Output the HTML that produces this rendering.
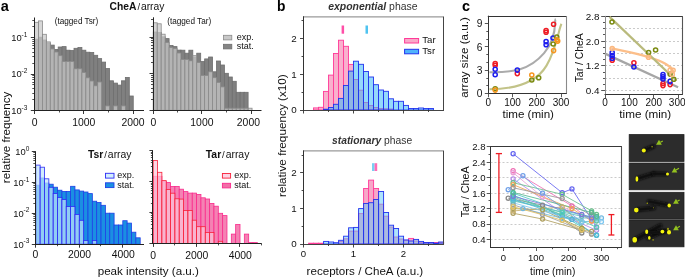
<!DOCTYPE html>
<html><head><meta charset="utf-8"><style>
html,body{margin:0;padding:0;background:#fff;width:685px;height:278px;overflow:hidden}
svg{display:block;will-change:transform}
text{font-family:"Liberation Sans",sans-serif}
</style></head><body>
<svg width="685" height="278" viewBox="0 0 685 278" font-family="Liberation Sans, sans-serif">
<rect width="685" height="278" fill="#fff"/>
<rect x="34.5" y="39.2" width="3.95" height="71.3" fill="#808080" stroke="#6e6e6e" stroke-width="0.8" />
<rect x="38.45" y="37.2" width="3.95" height="73.3" fill="#808080" stroke="#6e6e6e" stroke-width="0.8" />
<rect x="42.4" y="40" width="3.95" height="70.5" fill="#808080" stroke="#6e6e6e" stroke-width="0.8" />
<rect x="46.35" y="43" width="3.95" height="67.5" fill="#808080" stroke="#6e6e6e" stroke-width="0.8" />
<rect x="50.3" y="45.1" width="3.95" height="65.4" fill="#808080" stroke="#6e6e6e" stroke-width="0.8" />
<rect x="54.25" y="49.4" width="3.95" height="61.1" fill="#808080" stroke="#6e6e6e" stroke-width="0.8" />
<rect x="58.2" y="47" width="3.95" height="63.5" fill="#808080" stroke="#6e6e6e" stroke-width="0.8" />
<rect x="62.15" y="46.6" width="3.95" height="63.9" fill="#808080" stroke="#6e6e6e" stroke-width="0.8" />
<rect x="66.1" y="50.2" width="3.95" height="60.3" fill="#808080" stroke="#6e6e6e" stroke-width="0.8" />
<rect x="70.05" y="50.6" width="3.95" height="59.9" fill="#808080" stroke="#6e6e6e" stroke-width="0.8" />
<rect x="74" y="48.3" width="3.95" height="62.2" fill="#808080" stroke="#6e6e6e" stroke-width="0.8" />
<rect x="77.95" y="47.5" width="3.95" height="63" fill="#808080" stroke="#6e6e6e" stroke-width="0.8" />
<rect x="81.9" y="50.2" width="3.95" height="60.3" fill="#808080" stroke="#6e6e6e" stroke-width="0.8" />
<rect x="85.85" y="52.2" width="3.95" height="58.3" fill="#808080" stroke="#6e6e6e" stroke-width="0.8" />
<rect x="89.8" y="52.5" width="3.95" height="58" fill="#808080" stroke="#6e6e6e" stroke-width="0.8" />
<rect x="93.75" y="55.3" width="3.95" height="55.2" fill="#808080" stroke="#6e6e6e" stroke-width="0.8" />
<rect x="97.7" y="58.6" width="3.95" height="51.9" fill="#808080" stroke="#6e6e6e" stroke-width="0.8" />
<rect x="101.65" y="62.1" width="3.95" height="48.4" fill="#808080" stroke="#6e6e6e" stroke-width="0.8" />
<rect x="105.6" y="68.5" width="3.95" height="42" fill="#808080" stroke="#6e6e6e" stroke-width="0.8" />
<rect x="109.55" y="80.8" width="3.95" height="29.7" fill="#808080" stroke="#6e6e6e" stroke-width="0.8" />
<rect x="113.5" y="83.1" width="3.95" height="27.4" fill="#808080" stroke="#6e6e6e" stroke-width="0.8" />
<rect x="117.45" y="85.1" width="3.95" height="25.4" fill="#808080" stroke="#6e6e6e" stroke-width="0.8" />
<rect x="121.4" y="80.8" width="3.95" height="29.7" fill="#808080" stroke="#6e6e6e" stroke-width="0.8" />
<rect x="125.35" y="77.4" width="3.95" height="33.1" fill="#808080" stroke="#6e6e6e" stroke-width="0.8" />
<rect x="129.3" y="96" width="3.95" height="14.5" fill="#808080" stroke="#6e6e6e" stroke-width="0.8" />
<rect x="34.5" y="22.3" width="3.95" height="88.2" fill="#c8c8c8" stroke="#8a8a8a" stroke-width="0.8" fill-opacity="0.72"/>
<rect x="38.45" y="20.9" width="3.95" height="89.6" fill="#c8c8c8" stroke="#8a8a8a" stroke-width="0.8" fill-opacity="0.72"/>
<rect x="42.4" y="34.3" width="3.95" height="76.2" fill="#c8c8c8" stroke="#8a8a8a" stroke-width="0.8" fill-opacity="0.72"/>
<rect x="46.35" y="41.9" width="3.95" height="68.6" fill="#c8c8c8" stroke="#8a8a8a" stroke-width="0.8" fill-opacity="0.72"/>
<rect x="50.3" y="48.9" width="3.95" height="61.6" fill="#c8c8c8" stroke="#8a8a8a" stroke-width="0.8" fill-opacity="0.72"/>
<rect x="54.25" y="52" width="3.95" height="58.5" fill="#c8c8c8" stroke="#8a8a8a" stroke-width="0.8" fill-opacity="0.72"/>
<rect x="58.2" y="55.7" width="3.95" height="54.8" fill="#c8c8c8" stroke="#8a8a8a" stroke-width="0.8" fill-opacity="0.72"/>
<rect x="62.15" y="61.6" width="3.95" height="48.9" fill="#c8c8c8" stroke="#8a8a8a" stroke-width="0.8" fill-opacity="0.72"/>
<rect x="66.1" y="61.6" width="3.95" height="48.9" fill="#c8c8c8" stroke="#8a8a8a" stroke-width="0.8" fill-opacity="0.72"/>
<rect x="70.05" y="61.6" width="3.95" height="48.9" fill="#c8c8c8" stroke="#8a8a8a" stroke-width="0.8" fill-opacity="0.72"/>
<rect x="74" y="68.8" width="3.95" height="41.7" fill="#c8c8c8" stroke="#8a8a8a" stroke-width="0.8" fill-opacity="0.72"/>
<rect x="77.95" y="68.8" width="3.95" height="41.7" fill="#c8c8c8" stroke="#8a8a8a" stroke-width="0.8" fill-opacity="0.72"/>
<rect x="81.9" y="72.6" width="3.95" height="37.9" fill="#c8c8c8" stroke="#8a8a8a" stroke-width="0.8" fill-opacity="0.72"/>
<rect x="85.85" y="77.8" width="3.95" height="32.7" fill="#c8c8c8" stroke="#8a8a8a" stroke-width="0.8" fill-opacity="0.72"/>
<rect x="89.8" y="81" width="3.95" height="29.5" fill="#c8c8c8" stroke="#8a8a8a" stroke-width="0.8" fill-opacity="0.72"/>
<rect x="93.75" y="85.8" width="3.95" height="24.7" fill="#c8c8c8" stroke="#8a8a8a" stroke-width="0.8" fill-opacity="0.72"/>
<rect x="97.7" y="82" width="3.95" height="28.5" fill="#c8c8c8" stroke="#8a8a8a" stroke-width="0.8" fill-opacity="0.72"/>
<rect x="105.6" y="105.9" width="3.95" height="4.6" fill="#c8c8c8" stroke="#8a8a8a" stroke-width="0.8" fill-opacity="0.72"/>
<rect x="113.5" y="105.9" width="3.95" height="4.6" fill="#c8c8c8" stroke="#8a8a8a" stroke-width="0.8" fill-opacity="0.72"/>
<rect x="121.4" y="105.9" width="3.95" height="4.6" fill="#c8c8c8" stroke="#8a8a8a" stroke-width="0.8" fill-opacity="0.72"/>
<rect x="153.3" y="32" width="3.95" height="78.3" fill="#808080" stroke="#6e6e6e" stroke-width="0.8" />
<rect x="157.25" y="32.5" width="3.95" height="77.8" fill="#808080" stroke="#6e6e6e" stroke-width="0.8" />
<rect x="161.2" y="36.8" width="3.95" height="73.5" fill="#808080" stroke="#6e6e6e" stroke-width="0.8" />
<rect x="165.15" y="38.6" width="3.95" height="71.7" fill="#808080" stroke="#6e6e6e" stroke-width="0.8" />
<rect x="169.1" y="45.4" width="3.95" height="64.9" fill="#808080" stroke="#6e6e6e" stroke-width="0.8" />
<rect x="173.05" y="46.6" width="3.95" height="63.7" fill="#808080" stroke="#6e6e6e" stroke-width="0.8" />
<rect x="177" y="50.1" width="3.95" height="60.2" fill="#808080" stroke="#6e6e6e" stroke-width="0.8" />
<rect x="180.95" y="50.2" width="3.95" height="60.1" fill="#808080" stroke="#6e6e6e" stroke-width="0.8" />
<rect x="184.9" y="53.2" width="3.95" height="57.1" fill="#808080" stroke="#6e6e6e" stroke-width="0.8" />
<rect x="188.85" y="50.2" width="3.95" height="60.1" fill="#808080" stroke="#6e6e6e" stroke-width="0.8" />
<rect x="192.8" y="57" width="3.95" height="53.3" fill="#808080" stroke="#6e6e6e" stroke-width="0.8" />
<rect x="196.75" y="53.2" width="3.95" height="57.1" fill="#808080" stroke="#6e6e6e" stroke-width="0.8" />
<rect x="200.7" y="61.6" width="3.95" height="48.7" fill="#808080" stroke="#6e6e6e" stroke-width="0.8" />
<rect x="204.65" y="58.9" width="3.95" height="51.4" fill="#808080" stroke="#6e6e6e" stroke-width="0.8" />
<rect x="208.6" y="57" width="3.95" height="53.3" fill="#808080" stroke="#6e6e6e" stroke-width="0.8" />
<rect x="212.55" y="71.8" width="3.95" height="38.5" fill="#808080" stroke="#6e6e6e" stroke-width="0.8" />
<rect x="216.5" y="61" width="3.95" height="49.3" fill="#808080" stroke="#6e6e6e" stroke-width="0.8" />
<rect x="220.45" y="65" width="3.95" height="45.3" fill="#808080" stroke="#6e6e6e" stroke-width="0.8" />
<rect x="224.4" y="73.3" width="3.95" height="37" fill="#808080" stroke="#6e6e6e" stroke-width="0.8" />
<rect x="228.35" y="77" width="3.95" height="33.3" fill="#808080" stroke="#6e6e6e" stroke-width="0.8" />
<rect x="232.3" y="81.3" width="3.95" height="29" fill="#808080" stroke="#6e6e6e" stroke-width="0.8" />
<rect x="236.25" y="92.3" width="3.95" height="18" fill="#808080" stroke="#6e6e6e" stroke-width="0.8" />
<rect x="240.2" y="92.3" width="3.95" height="18" fill="#808080" stroke="#6e6e6e" stroke-width="0.8" />
<rect x="244.15" y="92.3" width="3.95" height="18" fill="#808080" stroke="#6e6e6e" stroke-width="0.8" />
<rect x="153.3" y="22.8" width="3.95" height="87.5" fill="#c8c8c8" stroke="#8a8a8a" stroke-width="0.8" fill-opacity="0.72"/>
<rect x="157.25" y="23.8" width="3.95" height="86.5" fill="#c8c8c8" stroke="#8a8a8a" stroke-width="0.8" fill-opacity="0.72"/>
<rect x="161.2" y="34.2" width="3.95" height="76.1" fill="#c8c8c8" stroke="#8a8a8a" stroke-width="0.8" fill-opacity="0.72"/>
<rect x="165.15" y="42.5" width="3.95" height="67.8" fill="#c8c8c8" stroke="#8a8a8a" stroke-width="0.8" fill-opacity="0.72"/>
<rect x="169.1" y="47.6" width="3.95" height="62.7" fill="#c8c8c8" stroke="#8a8a8a" stroke-width="0.8" fill-opacity="0.72"/>
<rect x="173.05" y="48.4" width="3.95" height="61.9" fill="#c8c8c8" stroke="#8a8a8a" stroke-width="0.8" fill-opacity="0.72"/>
<rect x="177" y="53" width="3.95" height="57.3" fill="#c8c8c8" stroke="#8a8a8a" stroke-width="0.8" fill-opacity="0.72"/>
<rect x="180.95" y="59.5" width="3.95" height="50.8" fill="#c8c8c8" stroke="#8a8a8a" stroke-width="0.8" fill-opacity="0.72"/>
<rect x="184.9" y="59.5" width="3.95" height="50.8" fill="#c8c8c8" stroke="#8a8a8a" stroke-width="0.8" fill-opacity="0.72"/>
<rect x="188.85" y="60.8" width="3.95" height="49.5" fill="#c8c8c8" stroke="#8a8a8a" stroke-width="0.8" fill-opacity="0.72"/>
<rect x="192.8" y="55.7" width="3.95" height="54.6" fill="#c8c8c8" stroke="#8a8a8a" stroke-width="0.8" fill-opacity="0.72"/>
<rect x="196.75" y="62.6" width="3.95" height="47.7" fill="#c8c8c8" stroke="#8a8a8a" stroke-width="0.8" fill-opacity="0.72"/>
<rect x="200.7" y="75.5" width="3.95" height="34.8" fill="#c8c8c8" stroke="#8a8a8a" stroke-width="0.8" fill-opacity="0.72"/>
<rect x="204.65" y="75.5" width="3.95" height="34.8" fill="#c8c8c8" stroke="#8a8a8a" stroke-width="0.8" fill-opacity="0.72"/>
<rect x="208.6" y="71.8" width="3.95" height="38.5" fill="#c8c8c8" stroke="#8a8a8a" stroke-width="0.8" fill-opacity="0.72"/>
<rect x="212.55" y="77.7" width="3.95" height="32.6" fill="#c8c8c8" stroke="#8a8a8a" stroke-width="0.8" fill-opacity="0.72"/>
<rect x="216.5" y="82.4" width="3.95" height="27.9" fill="#c8c8c8" stroke="#8a8a8a" stroke-width="0.8" fill-opacity="0.72"/>
<rect x="220.45" y="86.9" width="3.95" height="23.4" fill="#c8c8c8" stroke="#8a8a8a" stroke-width="0.8" fill-opacity="0.72"/>
<rect x="224.4" y="108.2" width="3.95" height="2.1" fill="#c8c8c8" stroke="#8a8a8a" stroke-width="0.8" fill-opacity="0.72"/>
<rect x="228.35" y="108.2" width="3.95" height="2.1" fill="#c8c8c8" stroke="#8a8a8a" stroke-width="0.8" fill-opacity="0.72"/>
<rect x="232.3" y="108.2" width="3.95" height="2.1" fill="#c8c8c8" stroke="#8a8a8a" stroke-width="0.8" fill-opacity="0.72"/>
<rect x="236.25" y="108.2" width="3.95" height="2.1" fill="#c8c8c8" stroke="#8a8a8a" stroke-width="0.8" fill-opacity="0.72"/>
<rect x="240.2" y="108.2" width="3.95" height="2.1" fill="#c8c8c8" stroke="#8a8a8a" stroke-width="0.8" fill-opacity="0.72"/>
<rect x="244.15" y="108.2" width="3.95" height="2.1" fill="#c8c8c8" stroke="#8a8a8a" stroke-width="0.8" fill-opacity="0.72"/>
<rect x="248.1" y="108.2" width="3.95" height="2.1" fill="#c8c8c8" stroke="#8a8a8a" stroke-width="0.8" fill-opacity="0.72"/>
<rect x="35.8" y="185.2" width="4.35" height="59" fill="#1b8fe2" stroke="#1f3fe8" stroke-width="0.8" />
<rect x="40.15" y="178" width="4.35" height="66.2" fill="#1b8fe2" stroke="#1f3fe8" stroke-width="0.8" />
<rect x="44.5" y="183" width="4.35" height="61.2" fill="#1b8fe2" stroke="#1f3fe8" stroke-width="0.8" />
<rect x="48.85" y="184.2" width="4.35" height="60" fill="#1b8fe2" stroke="#1f3fe8" stroke-width="0.8" />
<rect x="53.2" y="187.2" width="4.35" height="57" fill="#1b8fe2" stroke="#1f3fe8" stroke-width="0.8" />
<rect x="57.55" y="190.2" width="4.35" height="54" fill="#1b8fe2" stroke="#1f3fe8" stroke-width="0.8" />
<rect x="61.9" y="191.4" width="4.35" height="52.8" fill="#1b8fe2" stroke="#1f3fe8" stroke-width="0.8" />
<rect x="66.25" y="191.4" width="4.35" height="52.8" fill="#1b8fe2" stroke="#1f3fe8" stroke-width="0.8" />
<rect x="70.6" y="186.3" width="4.35" height="57.9" fill="#1b8fe2" stroke="#1f3fe8" stroke-width="0.8" />
<rect x="74.95" y="189.9" width="4.35" height="54.3" fill="#1b8fe2" stroke="#1f3fe8" stroke-width="0.8" />
<rect x="79.3" y="191.1" width="4.35" height="53.1" fill="#1b8fe2" stroke="#1f3fe8" stroke-width="0.8" />
<rect x="83.65" y="192" width="4.35" height="52.2" fill="#1b8fe2" stroke="#1f3fe8" stroke-width="0.8" />
<rect x="88" y="193.6" width="4.35" height="50.6" fill="#1b8fe2" stroke="#1f3fe8" stroke-width="0.8" />
<rect x="92.35" y="201.2" width="4.35" height="43" fill="#1b8fe2" stroke="#1f3fe8" stroke-width="0.8" />
<rect x="96.7" y="202.5" width="4.35" height="41.7" fill="#1b8fe2" stroke="#1f3fe8" stroke-width="0.8" />
<rect x="101.05" y="205.3" width="4.35" height="38.9" fill="#1b8fe2" stroke="#1f3fe8" stroke-width="0.8" />
<rect x="105.4" y="213.2" width="4.35" height="31" fill="#1b8fe2" stroke="#1f3fe8" stroke-width="0.8" />
<rect x="109.75" y="213.2" width="4.35" height="31" fill="#1b8fe2" stroke="#1f3fe8" stroke-width="0.8" />
<rect x="114.1" y="225" width="4.35" height="19.2" fill="#1b8fe2" stroke="#1f3fe8" stroke-width="0.8" />
<rect x="118.45" y="225" width="4.35" height="19.2" fill="#1b8fe2" stroke="#1f3fe8" stroke-width="0.8" />
<rect x="122.8" y="220.7" width="4.35" height="23.5" fill="#1b8fe2" stroke="#1f3fe8" stroke-width="0.8" />
<rect x="127.15" y="223.1" width="4.35" height="21.1" fill="#1b8fe2" stroke="#1f3fe8" stroke-width="0.8" />
<rect x="131.5" y="232.2" width="4.35" height="12" fill="#1b8fe2" stroke="#1f3fe8" stroke-width="0.8" />
<rect x="135.85" y="237.8" width="4.35" height="6.4" fill="#1b8fe2" stroke="#1f3fe8" stroke-width="0.8" />
<rect x="35.8" y="165.1" width="4.35" height="79.1" fill="#bfe5fb" stroke="#2b2bf5" stroke-width="0.8" fill-opacity="0.72"/>
<rect x="40.15" y="167.2" width="4.35" height="77" fill="#bfe5fb" stroke="#2b2bf5" stroke-width="0.8" fill-opacity="0.72"/>
<rect x="44.5" y="178.8" width="4.35" height="65.4" fill="#bfe5fb" stroke="#2b2bf5" stroke-width="0.8" fill-opacity="0.72"/>
<rect x="48.85" y="187.3" width="4.35" height="56.9" fill="#bfe5fb" stroke="#2b2bf5" stroke-width="0.8" fill-opacity="0.72"/>
<rect x="53.2" y="193.5" width="4.35" height="50.7" fill="#bfe5fb" stroke="#2b2bf5" stroke-width="0.8" fill-opacity="0.72"/>
<rect x="57.55" y="197.4" width="4.35" height="46.8" fill="#bfe5fb" stroke="#2b2bf5" stroke-width="0.8" fill-opacity="0.72"/>
<rect x="61.9" y="199.6" width="4.35" height="44.6" fill="#bfe5fb" stroke="#2b2bf5" stroke-width="0.8" fill-opacity="0.72"/>
<rect x="66.25" y="206.5" width="4.35" height="37.7" fill="#bfe5fb" stroke="#2b2bf5" stroke-width="0.8" fill-opacity="0.72"/>
<rect x="70.6" y="206.5" width="4.35" height="37.7" fill="#bfe5fb" stroke="#2b2bf5" stroke-width="0.8" fill-opacity="0.72"/>
<rect x="74.95" y="214.4" width="4.35" height="29.8" fill="#bfe5fb" stroke="#2b2bf5" stroke-width="0.8" fill-opacity="0.72"/>
<rect x="79.3" y="220.3" width="4.35" height="23.9" fill="#bfe5fb" stroke="#2b2bf5" stroke-width="0.8" fill-opacity="0.72"/>
<rect x="83.65" y="240.5" width="4.35" height="3.7" fill="#bfe5fb" stroke="#2b2bf5" stroke-width="0.8" fill-opacity="0.72"/>
<rect x="92.35" y="240.5" width="4.35" height="3.7" fill="#bfe5fb" stroke="#2b2bf5" stroke-width="0.8" fill-opacity="0.72"/>
<rect x="153.2" y="176.3" width="4.34" height="67.1" fill="#f482b3" stroke="#fa2a8c" stroke-width="0.8" />
<rect x="157.54" y="176.3" width="4.34" height="67.1" fill="#f482b3" stroke="#fa2a8c" stroke-width="0.8" />
<rect x="161.88" y="181.5" width="4.34" height="61.9" fill="#f482b3" stroke="#fa2a8c" stroke-width="0.8" />
<rect x="166.22" y="182.6" width="4.34" height="60.8" fill="#f482b3" stroke="#fa2a8c" stroke-width="0.8" />
<rect x="170.56" y="186.4" width="4.34" height="57" fill="#f482b3" stroke="#fa2a8c" stroke-width="0.8" />
<rect x="174.9" y="186.4" width="4.34" height="57" fill="#f482b3" stroke="#fa2a8c" stroke-width="0.8" />
<rect x="179.24" y="189.2" width="4.34" height="54.2" fill="#f482b3" stroke="#fa2a8c" stroke-width="0.8" />
<rect x="183.58" y="191.6" width="4.34" height="51.8" fill="#f482b3" stroke="#fa2a8c" stroke-width="0.8" />
<rect x="187.92" y="193.1" width="4.34" height="50.3" fill="#f482b3" stroke="#fa2a8c" stroke-width="0.8" />
<rect x="192.26" y="193.1" width="4.34" height="50.3" fill="#f482b3" stroke="#fa2a8c" stroke-width="0.8" />
<rect x="196.6" y="194.4" width="4.34" height="49" fill="#f482b3" stroke="#fa2a8c" stroke-width="0.8" />
<rect x="200.94" y="197.8" width="4.34" height="45.6" fill="#f482b3" stroke="#fa2a8c" stroke-width="0.8" />
<rect x="205.28" y="199" width="4.34" height="44.4" fill="#f482b3" stroke="#fa2a8c" stroke-width="0.8" />
<rect x="209.62" y="203.4" width="4.34" height="40" fill="#f482b3" stroke="#fa2a8c" stroke-width="0.8" />
<rect x="213.96" y="206.2" width="4.34" height="37.2" fill="#f482b3" stroke="#fa2a8c" stroke-width="0.8" />
<rect x="218.3" y="213.3" width="4.34" height="30.1" fill="#f482b3" stroke="#fa2a8c" stroke-width="0.8" />
<rect x="222.64" y="215.6" width="4.34" height="27.8" fill="#f482b3" stroke="#fa2a8c" stroke-width="0.8" />
<rect x="231.32" y="234.1" width="4.34" height="9.3" fill="#f482b3" stroke="#fa2a8c" stroke-width="0.8" />
<rect x="235.66" y="224.4" width="4.34" height="19" fill="#f482b3" stroke="#fa2a8c" stroke-width="0.8" />
<rect x="244.34" y="234.1" width="4.34" height="9.3" fill="#f482b3" stroke="#fa2a8c" stroke-width="0.8" />
<rect x="248.68" y="242.6" width="4.34" height="0.8" fill="#f482b3" stroke="#fa2a8c" stroke-width="0.8" />
<rect x="253.02" y="242.6" width="4.34" height="0.8" fill="#f482b3" stroke="#fa2a8c" stroke-width="0.8" />
<rect x="153.2" y="160.5" width="4.34" height="82.9" fill="#fbc6da" stroke="#f8203a" stroke-width="0.8" fill-opacity="0.72"/>
<rect x="157.54" y="172.3" width="4.34" height="71.1" fill="#fbc6da" stroke="#f8203a" stroke-width="0.8" fill-opacity="0.72"/>
<rect x="161.88" y="180.6" width="4.34" height="62.8" fill="#fbc6da" stroke="#f8203a" stroke-width="0.8" fill-opacity="0.72"/>
<rect x="166.22" y="189.5" width="4.34" height="53.9" fill="#fbc6da" stroke="#f8203a" stroke-width="0.8" fill-opacity="0.72"/>
<rect x="170.56" y="193.2" width="4.34" height="50.2" fill="#fbc6da" stroke="#f8203a" stroke-width="0.8" fill-opacity="0.72"/>
<rect x="174.9" y="198.8" width="4.34" height="44.6" fill="#fbc6da" stroke="#f8203a" stroke-width="0.8" fill-opacity="0.72"/>
<rect x="179.24" y="199.1" width="4.34" height="44.3" fill="#fbc6da" stroke="#f8203a" stroke-width="0.8" fill-opacity="0.72"/>
<rect x="183.58" y="210.5" width="4.34" height="32.9" fill="#fbc6da" stroke="#f8203a" stroke-width="0.8" fill-opacity="0.72"/>
<rect x="187.92" y="210.5" width="4.34" height="32.9" fill="#fbc6da" stroke="#f8203a" stroke-width="0.8" fill-opacity="0.72"/>
<rect x="192.26" y="220.2" width="4.34" height="23.2" fill="#fbc6da" stroke="#f8203a" stroke-width="0.8" fill-opacity="0.72"/>
<rect x="196.6" y="226.7" width="4.34" height="16.7" fill="#fbc6da" stroke="#f8203a" stroke-width="0.8" fill-opacity="0.72"/>
<rect x="200.94" y="226.7" width="4.34" height="16.7" fill="#fbc6da" stroke="#f8203a" stroke-width="0.8" fill-opacity="0.72"/>
<rect x="205.28" y="232.5" width="4.34" height="10.9" fill="#fbc6da" stroke="#f8203a" stroke-width="0.8" fill-opacity="0.72"/>
<rect x="209.62" y="232.5" width="4.34" height="10.9" fill="#fbc6da" stroke="#f8203a" stroke-width="0.8" fill-opacity="0.72"/>
<rect x="218.3" y="241.3" width="4.34" height="2.1" fill="#fbc6da" stroke="#f8203a" stroke-width="0.8" fill-opacity="0.72"/>
<line x1="34.5" y1="17.5" x2="34.5" y2="111" stroke="#222" stroke-width="1" />
<line x1="30.8" y1="110.5" x2="34.3" y2="110.5" stroke="#222" stroke-width="0.9" />
<line x1="32.3" y1="99.5" x2="34.3" y2="99.5" stroke="#222" stroke-width="0.8" />
<line x1="32.3" y1="93.5" x2="34.3" y2="93.5" stroke="#222" stroke-width="0.8" />
<line x1="32.3" y1="88.5" x2="34.3" y2="88.5" stroke="#222" stroke-width="0.8" />
<line x1="32.3" y1="84.5" x2="34.3" y2="84.5" stroke="#222" stroke-width="0.8" />
<line x1="32.3" y1="82.5" x2="34.3" y2="82.5" stroke="#222" stroke-width="0.8" />
<line x1="32.3" y1="79.5" x2="34.3" y2="79.5" stroke="#222" stroke-width="0.8" />
<line x1="32.3" y1="77.5" x2="34.3" y2="77.5" stroke="#222" stroke-width="0.8" />
<line x1="32.3" y1="75.5" x2="34.3" y2="75.5" stroke="#222" stroke-width="0.8" />
<line x1="30.8" y1="74.5" x2="34.3" y2="74.5" stroke="#222" stroke-width="0.9" />
<line x1="32.3" y1="63.5" x2="34.3" y2="63.5" stroke="#222" stroke-width="0.8" />
<line x1="32.3" y1="56.5" x2="34.3" y2="56.5" stroke="#222" stroke-width="0.8" />
<line x1="32.3" y1="52.5" x2="34.3" y2="52.5" stroke="#222" stroke-width="0.8" />
<line x1="32.3" y1="48.5" x2="34.3" y2="48.5" stroke="#222" stroke-width="0.8" />
<line x1="32.3" y1="45.5" x2="34.3" y2="45.5" stroke="#222" stroke-width="0.8" />
<line x1="32.3" y1="43.5" x2="34.3" y2="43.5" stroke="#222" stroke-width="0.8" />
<line x1="32.3" y1="41.5" x2="34.3" y2="41.5" stroke="#222" stroke-width="0.8" />
<line x1="32.3" y1="39.5" x2="34.3" y2="39.5" stroke="#222" stroke-width="0.8" />
<line x1="30.8" y1="37.5" x2="34.3" y2="37.5" stroke="#222" stroke-width="0.9" />
<line x1="32.3" y1="26.5" x2="34.3" y2="26.5" stroke="#222" stroke-width="0.8" />
<line x1="32.3" y1="20.5" x2="34.3" y2="20.5" stroke="#222" stroke-width="0.8" />
<text x="27.4" y="113.9" font-size="9.4" text-anchor="end" fill="#111">10<tspan font-size="6.5" dy="-4.3">-3</tspan></text>
<text x="27.4" y="77.4" font-size="9.4" text-anchor="end" fill="#111">10<tspan font-size="6.5" dy="-4.3">-2</tspan></text>
<text x="27.4" y="40.9" font-size="9.4" text-anchor="end" fill="#111">10<tspan font-size="6.5" dy="-4.3">-1</tspan></text>
<line x1="33.8" y1="110.5" x2="144" y2="110.5" stroke="#222" stroke-width="1" />
<line x1="34.5" y1="110.5" x2="34.5" y2="114" stroke="#222" stroke-width="0.9" />
<line x1="83.5" y1="110.5" x2="83.5" y2="114" stroke="#222" stroke-width="0.9" />
<line x1="133.5" y1="110.5" x2="133.5" y2="114" stroke="#222" stroke-width="0.9" />
<line x1="59.5" y1="110.5" x2="59.5" y2="112.5" stroke="#222" stroke-width="0.8" />
<line x1="108.5" y1="110.5" x2="108.5" y2="112.5" stroke="#222" stroke-width="0.8" />
<text x="34.6" y="126.3" font-size="10.4" text-anchor="middle" font-weight="normal" font-style="normal" fill="#111" >0</text>
<text x="83.8" y="126.3" font-size="10.4" text-anchor="middle" font-weight="normal" font-style="normal" fill="#111" >1000</text>
<text x="133.1" y="126.3" font-size="10.4" text-anchor="middle" font-weight="normal" font-style="normal" fill="#111" >2000</text>
<line x1="153.5" y1="17.3" x2="153.5" y2="110.8" stroke="#222" stroke-width="1" />
<line x1="149.5" y1="110.5" x2="153" y2="110.5" stroke="#222" stroke-width="0.9" />
<line x1="151" y1="99.5" x2="153" y2="99.5" stroke="#222" stroke-width="0.8" />
<line x1="151" y1="92.5" x2="153" y2="92.5" stroke="#222" stroke-width="0.8" />
<line x1="151" y1="88.5" x2="153" y2="88.5" stroke="#222" stroke-width="0.8" />
<line x1="151" y1="84.5" x2="153" y2="84.5" stroke="#222" stroke-width="0.8" />
<line x1="151" y1="81.5" x2="153" y2="81.5" stroke="#222" stroke-width="0.8" />
<line x1="151" y1="79.5" x2="153" y2="79.5" stroke="#222" stroke-width="0.8" />
<line x1="151" y1="77.5" x2="153" y2="77.5" stroke="#222" stroke-width="0.8" />
<line x1="151" y1="75.5" x2="153" y2="75.5" stroke="#222" stroke-width="0.8" />
<line x1="149.5" y1="73.5" x2="153" y2="73.5" stroke="#222" stroke-width="0.9" />
<line x1="151" y1="62.5" x2="153" y2="62.5" stroke="#222" stroke-width="0.8" />
<line x1="151" y1="56.5" x2="153" y2="56.5" stroke="#222" stroke-width="0.8" />
<line x1="151" y1="51.5" x2="153" y2="51.5" stroke="#222" stroke-width="0.8" />
<line x1="151" y1="48.5" x2="153" y2="48.5" stroke="#222" stroke-width="0.8" />
<line x1="151" y1="45.5" x2="153" y2="45.5" stroke="#222" stroke-width="0.8" />
<line x1="151" y1="42.5" x2="153" y2="42.5" stroke="#222" stroke-width="0.8" />
<line x1="151" y1="40.5" x2="153" y2="40.5" stroke="#222" stroke-width="0.8" />
<line x1="151" y1="38.5" x2="153" y2="38.5" stroke="#222" stroke-width="0.8" />
<line x1="149.5" y1="37.5" x2="153" y2="37.5" stroke="#222" stroke-width="0.9" />
<line x1="151" y1="26.5" x2="153" y2="26.5" stroke="#222" stroke-width="0.8" />
<line x1="151" y1="19.5" x2="153" y2="19.5" stroke="#222" stroke-width="0.8" />
<line x1="152.5" y1="110.5" x2="261.5" y2="110.5" stroke="#222" stroke-width="1" />
<line x1="153.5" y1="110.5" x2="153.5" y2="114" stroke="#222" stroke-width="0.9" />
<line x1="201.5" y1="110.5" x2="201.5" y2="114" stroke="#222" stroke-width="0.9" />
<line x1="251.5" y1="110.5" x2="251.5" y2="114" stroke="#222" stroke-width="0.9" />
<line x1="177.5" y1="110.5" x2="177.5" y2="112.5" stroke="#222" stroke-width="0.8" />
<line x1="226.5" y1="110.5" x2="226.5" y2="112.5" stroke="#222" stroke-width="0.8" />
<text x="153.5" y="126.4" font-size="10.4" text-anchor="middle" font-weight="normal" font-style="normal" fill="#111" >0</text>
<text x="201.9" y="126.4" font-size="10.4" text-anchor="middle" font-weight="normal" font-style="normal" fill="#111" >1000</text>
<text x="248.4" y="126.4" font-size="10.4" text-anchor="middle" font-weight="normal" font-style="normal" fill="#111" >2000</text>
<line x1="35.5" y1="151.2" x2="35.5" y2="244.7" stroke="#222" stroke-width="1" />
<line x1="31.8" y1="244.5" x2="35.3" y2="244.5" stroke="#222" stroke-width="0.9" />
<line x1="33.3" y1="234.5" x2="35.3" y2="234.5" stroke="#222" stroke-width="0.8" />
<line x1="33.3" y1="229.5" x2="35.3" y2="229.5" stroke="#222" stroke-width="0.8" />
<line x1="33.3" y1="225.5" x2="35.3" y2="225.5" stroke="#222" stroke-width="0.8" />
<line x1="33.3" y1="222.5" x2="35.3" y2="222.5" stroke="#222" stroke-width="0.8" />
<line x1="33.3" y1="220.5" x2="35.3" y2="220.5" stroke="#222" stroke-width="0.8" />
<line x1="33.3" y1="218.5" x2="35.3" y2="218.5" stroke="#222" stroke-width="0.8" />
<line x1="33.3" y1="216.5" x2="35.3" y2="216.5" stroke="#222" stroke-width="0.8" />
<line x1="33.3" y1="214.5" x2="35.3" y2="214.5" stroke="#222" stroke-width="0.8" />
<line x1="31.8" y1="213.5" x2="35.3" y2="213.5" stroke="#222" stroke-width="0.9" />
<line x1="33.3" y1="203.5" x2="35.3" y2="203.5" stroke="#222" stroke-width="0.8" />
<line x1="33.3" y1="198.5" x2="35.3" y2="198.5" stroke="#222" stroke-width="0.8" />
<line x1="33.3" y1="194.5" x2="35.3" y2="194.5" stroke="#222" stroke-width="0.8" />
<line x1="33.3" y1="191.5" x2="35.3" y2="191.5" stroke="#222" stroke-width="0.8" />
<line x1="33.3" y1="189.5" x2="35.3" y2="189.5" stroke="#222" stroke-width="0.8" />
<line x1="33.3" y1="187.5" x2="35.3" y2="187.5" stroke="#222" stroke-width="0.8" />
<line x1="33.3" y1="185.5" x2="35.3" y2="185.5" stroke="#222" stroke-width="0.8" />
<line x1="33.3" y1="183.5" x2="35.3" y2="183.5" stroke="#222" stroke-width="0.8" />
<line x1="31.8" y1="182.5" x2="35.3" y2="182.5" stroke="#222" stroke-width="0.9" />
<line x1="33.3" y1="173.5" x2="35.3" y2="173.5" stroke="#222" stroke-width="0.8" />
<line x1="33.3" y1="167.5" x2="35.3" y2="167.5" stroke="#222" stroke-width="0.8" />
<line x1="33.3" y1="163.5" x2="35.3" y2="163.5" stroke="#222" stroke-width="0.8" />
<line x1="33.3" y1="160.5" x2="35.3" y2="160.5" stroke="#222" stroke-width="0.8" />
<line x1="33.3" y1="158.5" x2="35.3" y2="158.5" stroke="#222" stroke-width="0.8" />
<line x1="33.3" y1="156.5" x2="35.3" y2="156.5" stroke="#222" stroke-width="0.8" />
<line x1="33.3" y1="154.5" x2="35.3" y2="154.5" stroke="#222" stroke-width="0.8" />
<line x1="33.3" y1="152.5" x2="35.3" y2="152.5" stroke="#222" stroke-width="0.8" />
<line x1="31.8" y1="151.5" x2="35.3" y2="151.5" stroke="#222" stroke-width="0.9" />
<text x="29.4" y="247.6" font-size="9.4" text-anchor="end" fill="#111">10<tspan font-size="6.5" dy="-4.3">-3</tspan></text>
<text x="29.4" y="216.7" font-size="9.4" text-anchor="end" fill="#111">10<tspan font-size="6.5" dy="-4.3">-2</tspan></text>
<text x="29.4" y="185.8" font-size="9.4" text-anchor="end" fill="#111">10<tspan font-size="6.5" dy="-4.3">-1</tspan></text>
<text x="29.4" y="154.9" font-size="9.4" text-anchor="end" fill="#111">10<tspan font-size="6.5" dy="-4.3">0</tspan></text>
<line x1="35" y1="244.5" x2="144" y2="244.5" stroke="#222" stroke-width="1" />
<line x1="35.5" y1="244.2" x2="35.5" y2="247.7" stroke="#222" stroke-width="0.9" />
<line x1="79.5" y1="244.2" x2="79.5" y2="247.7" stroke="#222" stroke-width="0.9" />
<line x1="122.5" y1="244.2" x2="122.5" y2="247.7" stroke="#222" stroke-width="0.9" />
<line x1="57.5" y1="244.2" x2="57.5" y2="246.2" stroke="#222" stroke-width="0.8" />
<line x1="100.5" y1="244.2" x2="100.5" y2="246.2" stroke="#222" stroke-width="0.8" />
<text x="35.3" y="257.6" font-size="10.4" text-anchor="middle" font-weight="normal" font-style="normal" fill="#111" >0</text>
<text x="79.6" y="257.6" font-size="10.4" text-anchor="middle" font-weight="normal" font-style="normal" fill="#111" >2000</text>
<text x="123.2" y="257.6" font-size="10.4" text-anchor="middle" font-weight="normal" font-style="normal" fill="#111" >4000</text>
<line x1="152.5" y1="150.4" x2="152.5" y2="243.9" stroke="#222" stroke-width="1" />
<line x1="149.4" y1="243.5" x2="152.9" y2="243.5" stroke="#222" stroke-width="0.9" />
<line x1="150.9" y1="234.5" x2="152.9" y2="234.5" stroke="#222" stroke-width="0.8" />
<line x1="150.9" y1="228.5" x2="152.9" y2="228.5" stroke="#222" stroke-width="0.8" />
<line x1="150.9" y1="224.5" x2="152.9" y2="224.5" stroke="#222" stroke-width="0.8" />
<line x1="150.9" y1="221.5" x2="152.9" y2="221.5" stroke="#222" stroke-width="0.8" />
<line x1="150.9" y1="219.5" x2="152.9" y2="219.5" stroke="#222" stroke-width="0.8" />
<line x1="150.9" y1="217.5" x2="152.9" y2="217.5" stroke="#222" stroke-width="0.8" />
<line x1="150.9" y1="215.5" x2="152.9" y2="215.5" stroke="#222" stroke-width="0.8" />
<line x1="150.9" y1="213.5" x2="152.9" y2="213.5" stroke="#222" stroke-width="0.8" />
<line x1="149.4" y1="212.5" x2="152.9" y2="212.5" stroke="#222" stroke-width="0.9" />
<line x1="150.9" y1="203.5" x2="152.9" y2="203.5" stroke="#222" stroke-width="0.8" />
<line x1="150.9" y1="197.5" x2="152.9" y2="197.5" stroke="#222" stroke-width="0.8" />
<line x1="150.9" y1="193.5" x2="152.9" y2="193.5" stroke="#222" stroke-width="0.8" />
<line x1="150.9" y1="190.5" x2="152.9" y2="190.5" stroke="#222" stroke-width="0.8" />
<line x1="150.9" y1="188.5" x2="152.9" y2="188.5" stroke="#222" stroke-width="0.8" />
<line x1="150.9" y1="186.5" x2="152.9" y2="186.5" stroke="#222" stroke-width="0.8" />
<line x1="150.9" y1="184.5" x2="152.9" y2="184.5" stroke="#222" stroke-width="0.8" />
<line x1="150.9" y1="183.5" x2="152.9" y2="183.5" stroke="#222" stroke-width="0.8" />
<line x1="149.4" y1="181.5" x2="152.9" y2="181.5" stroke="#222" stroke-width="0.9" />
<line x1="150.9" y1="172.5" x2="152.9" y2="172.5" stroke="#222" stroke-width="0.8" />
<line x1="150.9" y1="166.5" x2="152.9" y2="166.5" stroke="#222" stroke-width="0.8" />
<line x1="150.9" y1="162.5" x2="152.9" y2="162.5" stroke="#222" stroke-width="0.8" />
<line x1="150.9" y1="160.5" x2="152.9" y2="160.5" stroke="#222" stroke-width="0.8" />
<line x1="150.9" y1="157.5" x2="152.9" y2="157.5" stroke="#222" stroke-width="0.8" />
<line x1="150.9" y1="155.5" x2="152.9" y2="155.5" stroke="#222" stroke-width="0.8" />
<line x1="150.9" y1="153.5" x2="152.9" y2="153.5" stroke="#222" stroke-width="0.8" />
<line x1="150.9" y1="152.5" x2="152.9" y2="152.5" stroke="#222" stroke-width="0.8" />
<line x1="149.4" y1="150.5" x2="152.9" y2="150.5" stroke="#222" stroke-width="0.9" />
<line x1="152.4" y1="243.5" x2="261.6" y2="243.5" stroke="#222" stroke-width="1" />
<line x1="153.5" y1="243.4" x2="153.5" y2="246.9" stroke="#222" stroke-width="0.9" />
<line x1="196.5" y1="243.4" x2="196.5" y2="246.9" stroke="#222" stroke-width="0.9" />
<line x1="239.5" y1="243.4" x2="239.5" y2="246.9" stroke="#222" stroke-width="0.9" />
<line x1="174.5" y1="243.4" x2="174.5" y2="245.4" stroke="#222" stroke-width="0.8" />
<line x1="218.5" y1="243.4" x2="218.5" y2="245.4" stroke="#222" stroke-width="0.8" />
<line x1="261.5" y1="243.4" x2="261.5" y2="245.4" stroke="#222" stroke-width="0.8" />
<text x="153.1" y="258.6" font-size="10.4" text-anchor="middle" font-weight="normal" font-style="normal" fill="#111" >0</text>
<text x="196.7" y="258.6" font-size="10.4" text-anchor="middle" font-weight="normal" font-style="normal" fill="#111" >2000</text>
<text x="240.3" y="258.6" font-size="10.4" text-anchor="middle" font-weight="normal" font-style="normal" fill="#111" >4000</text>
<text x="109.6" y="10" font-size="10.3" fill="#111"><tspan font-weight="bold">CheA</tspan><tspan dx="0.9" font-size="0.92em">/</tspan><tspan dx="0.9">array</tspan></text>
<text x="54.7" y="24.3" font-size="8.2" text-anchor="start" font-weight="normal" font-style="normal" fill="#111" >(tagged Tsr)</text>
<text x="167.2" y="24.3" font-size="8.2" text-anchor="start" font-weight="normal" font-style="normal" fill="#111" >(tagged Tar)</text>
<rect x="223.5" y="35.3" width="8.3" height="4.6" fill="#c8c8c8" stroke="#8a8a8a" stroke-width="0.8" />
<rect x="223.5" y="44.3" width="8.3" height="4.6" fill="#858585" stroke="#6e6e6e" stroke-width="0.8" />
<text x="236.7" y="40.2" font-size="9" text-anchor="start" font-weight="normal" font-style="normal" fill="#111" >exp.</text>
<text x="236.7" y="49" font-size="9" text-anchor="start" font-weight="normal" font-style="normal" fill="#111" >stat.</text>
<text x="88" y="157.6" font-size="10.4" fill="#111"><tspan font-weight="bold">Tsr</tspan><tspan dx="0.9" font-size="0.92em">/</tspan><tspan dx="0.9">array</tspan></text>
<rect x="105.5" y="173.3" width="8.5" height="4.8" fill="#d3eefd" stroke="#2b2bf5" stroke-width="0.9" />
<rect x="105.5" y="182.8" width="8.5" height="4.8" fill="#1b8fe2" stroke="#1f3fe8" stroke-width="0.9" />
<text x="117.3" y="178" font-size="9" text-anchor="start" font-weight="normal" font-style="normal" fill="#111" >exp.</text>
<text x="117.3" y="188.2" font-size="9" text-anchor="start" font-weight="normal" font-style="normal" fill="#111" >stat.</text>
<text x="205.8" y="157.6" font-size="10.4" fill="#111"><tspan font-weight="bold">Tar</tspan><tspan dx="0.9" font-size="0.92em">/</tspan><tspan dx="0.9">array</tspan></text>
<rect x="222.4" y="173.5" width="8.2" height="4.6" fill="#fcd4e4" stroke="#f8203a" stroke-width="0.9" />
<rect x="222.4" y="183.3" width="8.2" height="4.6" fill="#f170a8" stroke="#fa2a8c" stroke-width="0.9" />
<text x="234.2" y="178.2" font-size="9" text-anchor="start" font-weight="normal" font-style="normal" fill="#111" >exp.</text>
<text x="234.2" y="188.2" font-size="9" text-anchor="start" font-weight="normal" font-style="normal" fill="#111" >stat.</text>
<text transform="translate(9.6,137.4) rotate(-90)" x="0" y="0" font-size="11.6" text-anchor="middle" fill="#111">relative frequency</text>
<text x="148.3" y="275" font-size="11.6" text-anchor="middle" font-weight="normal" font-style="normal" fill="#111" >peak intensity (a.u.)</text>
<text x="0.7" y="11.3" font-size="14.5" text-anchor="start" font-weight="bold" font-style="normal" fill="#000" >a</text>
<text x="277" y="10.6" font-size="13.8" text-anchor="start" font-weight="bold" font-style="normal" fill="#000" >b</text>
<text x="461.9" y="11.3" font-size="14.4" text-anchor="start" font-weight="bold" font-style="normal" fill="#000" >c</text>
<rect x="313.5" y="107.9" width="5" height="2.1" fill="#f9b0cd" stroke="#ff3a98" stroke-width="0.9" />
<rect x="318.5" y="107.3" width="5" height="2.7" fill="#f9b0cd" stroke="#ff3a98" stroke-width="0.9" />
<rect x="323.5" y="91.4" width="5" height="18.6" fill="#f9b0cd" stroke="#ff3a98" stroke-width="0.9" />
<rect x="328.5" y="75.1" width="5" height="34.9" fill="#f9b0cd" stroke="#ff3a98" stroke-width="0.9" />
<rect x="333.5" y="53.5" width="5" height="56.5" fill="#f9b0cd" stroke="#ff3a98" stroke-width="0.9" />
<rect x="338.5" y="40.2" width="5" height="69.8" fill="#f9b0cd" stroke="#ff3a98" stroke-width="0.9" />
<rect x="343.5" y="46.3" width="5" height="63.7" fill="#f9b0cd" stroke="#ff3a98" stroke-width="0.9" />
<rect x="348.5" y="64.4" width="5" height="45.6" fill="#f9b0cd" stroke="#ff3a98" stroke-width="0.9" />
<rect x="353.5" y="79.5" width="5" height="30.5" fill="#f9b0cd" stroke="#ff3a98" stroke-width="0.9" />
<rect x="358.5" y="90.2" width="5" height="19.8" fill="#f9b0cd" stroke="#ff3a98" stroke-width="0.9" />
<rect x="363.5" y="102.5" width="5" height="7.5" fill="#f9b0cd" stroke="#ff3a98" stroke-width="0.9" />
<rect x="368.5" y="105.5" width="5" height="4.5" fill="#f9b0cd" stroke="#ff3a98" stroke-width="0.9" />
<rect x="373.5" y="107.5" width="5" height="2.5" fill="#f9b0cd" stroke="#ff3a98" stroke-width="0.9" />
<rect x="378.5" y="108.5" width="5" height="1.5" fill="#f9b0cd" stroke="#ff3a98" stroke-width="0.9" />
<rect x="383.5" y="108.8" width="5" height="1.2" fill="#f9b0cd" stroke="#ff3a98" stroke-width="0.9" />
<rect x="388.5" y="109" width="5" height="1" fill="#f9b0cd" stroke="#ff3a98" stroke-width="0.9" />
<rect x="323.5" y="109.2" width="5" height="0.8" fill="rgb(60,185,248)" stroke="#2233ee" stroke-width="0.9" fill-opacity="0.55"/>
<rect x="328.5" y="107.5" width="5" height="2.5" fill="rgb(60,185,248)" stroke="#2233ee" stroke-width="0.9" fill-opacity="0.55"/>
<rect x="333.5" y="104.3" width="5" height="5.7" fill="rgb(60,185,248)" stroke="#2233ee" stroke-width="0.9" fill-opacity="0.55"/>
<rect x="338.5" y="98.4" width="5" height="11.6" fill="rgb(60,185,248)" stroke="#2233ee" stroke-width="0.9" fill-opacity="0.55"/>
<rect x="343.5" y="85.5" width="5" height="24.5" fill="rgb(60,185,248)" stroke="#2233ee" stroke-width="0.9" fill-opacity="0.55"/>
<rect x="348.5" y="71.1" width="5" height="38.9" fill="rgb(60,185,248)" stroke="#2233ee" stroke-width="0.9" fill-opacity="0.55"/>
<rect x="353.5" y="61.2" width="5" height="48.8" fill="rgb(60,185,248)" stroke="#2233ee" stroke-width="0.9" fill-opacity="0.55"/>
<rect x="358.5" y="64.3" width="5" height="45.7" fill="rgb(60,185,248)" stroke="#2233ee" stroke-width="0.9" fill-opacity="0.55"/>
<rect x="363.5" y="71.5" width="5" height="38.5" fill="rgb(60,185,248)" stroke="#2233ee" stroke-width="0.9" fill-opacity="0.55"/>
<rect x="368.5" y="77" width="5" height="33" fill="rgb(60,185,248)" stroke="#2233ee" stroke-width="0.9" fill-opacity="0.55"/>
<rect x="373.5" y="84.7" width="5" height="25.3" fill="rgb(60,185,248)" stroke="#2233ee" stroke-width="0.9" fill-opacity="0.55"/>
<rect x="378.5" y="90" width="5" height="20" fill="rgb(60,185,248)" stroke="#2233ee" stroke-width="0.9" fill-opacity="0.55"/>
<rect x="383.5" y="91.3" width="5" height="18.7" fill="rgb(60,185,248)" stroke="#2233ee" stroke-width="0.9" fill-opacity="0.55"/>
<rect x="388.5" y="98.8" width="5" height="11.2" fill="rgb(60,185,248)" stroke="#2233ee" stroke-width="0.9" fill-opacity="0.55"/>
<rect x="393.5" y="101.3" width="5" height="8.7" fill="rgb(60,185,248)" stroke="#2233ee" stroke-width="0.9" fill-opacity="0.55"/>
<rect x="398.5" y="101.3" width="5" height="8.7" fill="rgb(60,185,248)" stroke="#2233ee" stroke-width="0.9" fill-opacity="0.55"/>
<rect x="403.5" y="105.4" width="5" height="4.6" fill="rgb(60,185,248)" stroke="#2233ee" stroke-width="0.9" fill-opacity="0.55"/>
<rect x="408.5" y="108.5" width="5" height="1.5" fill="rgb(60,185,248)" stroke="#2233ee" stroke-width="0.9" fill-opacity="0.55"/>
<rect x="413.5" y="108.5" width="5" height="1.5" fill="rgb(60,185,248)" stroke="#2233ee" stroke-width="0.9" fill-opacity="0.55"/>
<rect x="418.5" y="108" width="5" height="2" fill="rgb(60,185,248)" stroke="#2233ee" stroke-width="0.9" fill-opacity="0.55"/>
<rect x="423.5" y="108.5" width="5" height="1.5" fill="rgb(60,185,248)" stroke="#2233ee" stroke-width="0.9" fill-opacity="0.55"/>
<rect x="428.5" y="108.5" width="5" height="1.5" fill="rgb(60,185,248)" stroke="#2233ee" stroke-width="0.9" fill-opacity="0.55"/>
<rect x="308.6" y="243.2" width="5" height="0.8" fill="#f7a8c8" stroke="#ff3a98" stroke-width="0.9" />
<rect x="313.6" y="243.2" width="5" height="0.8" fill="#f7a8c8" stroke="#ff3a98" stroke-width="0.9" />
<rect x="318.6" y="243.2" width="5" height="0.8" fill="#f7a8c8" stroke="#ff3a98" stroke-width="0.9" />
<rect x="338.6" y="241.4" width="5" height="2.6" fill="#f7a8c8" stroke="#ff3a98" stroke-width="0.9" />
<rect x="343.6" y="238.8" width="5" height="5.2" fill="#f7a8c8" stroke="#ff3a98" stroke-width="0.9" />
<rect x="348.6" y="231.1" width="5" height="12.9" fill="#f7a8c8" stroke="#ff3a98" stroke-width="0.9" />
<rect x="353.6" y="231.1" width="5" height="12.9" fill="#f7a8c8" stroke="#ff3a98" stroke-width="0.9" />
<rect x="358.6" y="213.6" width="5" height="30.4" fill="#f7a8c8" stroke="#ff3a98" stroke-width="0.9" />
<rect x="363.6" y="188.5" width="5" height="55.5" fill="#f7a8c8" stroke="#ff3a98" stroke-width="0.9" />
<rect x="368.6" y="180.1" width="5" height="63.9" fill="#f7a8c8" stroke="#ff3a98" stroke-width="0.9" />
<rect x="373.6" y="188.5" width="5" height="55.5" fill="#f7a8c8" stroke="#ff3a98" stroke-width="0.9" />
<rect x="378.6" y="204.2" width="5" height="39.8" fill="#f7a8c8" stroke="#ff3a98" stroke-width="0.9" />
<rect x="383.6" y="216.2" width="5" height="27.8" fill="#f7a8c8" stroke="#ff3a98" stroke-width="0.9" />
<rect x="388.6" y="227" width="5" height="17" fill="#f7a8c8" stroke="#ff3a98" stroke-width="0.9" />
<rect x="393.6" y="237" width="5" height="7" fill="#f7a8c8" stroke="#ff3a98" stroke-width="0.9" />
<rect x="398.6" y="239" width="5" height="5" fill="#f7a8c8" stroke="#ff3a98" stroke-width="0.9" />
<rect x="403.6" y="240.5" width="5" height="3.5" fill="#f7a8c8" stroke="#ff3a98" stroke-width="0.9" />
<rect x="408.6" y="238.4" width="5" height="5.6" fill="#f7a8c8" stroke="#ff3a98" stroke-width="0.9" />
<rect x="413.6" y="241" width="5" height="3" fill="#f7a8c8" stroke="#ff3a98" stroke-width="0.9" />
<rect x="418.6" y="242.5" width="5" height="1.5" fill="#f7a8c8" stroke="#ff3a98" stroke-width="0.9" />
<rect x="423.6" y="242.5" width="5" height="1.5" fill="#f7a8c8" stroke="#ff3a98" stroke-width="0.9" />
<rect x="428.6" y="242.5" width="5" height="1.5" fill="#f7a8c8" stroke="#ff3a98" stroke-width="0.9" />
<rect x="433.6" y="242.5" width="5" height="1.5" fill="#f7a8c8" stroke="#ff3a98" stroke-width="0.9" />
<rect x="438.6" y="242.5" width="5" height="1.5" fill="#f7a8c8" stroke="#ff3a98" stroke-width="0.9" />
<rect x="323.6" y="241.4" width="5" height="2.6" fill="rgb(93,201,249)" stroke="#2233ee" stroke-width="0.9" fill-opacity="0.5"/>
<rect x="328.6" y="242" width="5" height="2" fill="rgb(93,201,249)" stroke="#2233ee" stroke-width="0.9" fill-opacity="0.5"/>
<rect x="333.6" y="242.7" width="5" height="1.3" fill="rgb(93,201,249)" stroke="#2233ee" stroke-width="0.9" fill-opacity="0.5"/>
<rect x="338.6" y="240.3" width="5" height="3.7" fill="rgb(93,201,249)" stroke="#2233ee" stroke-width="0.9" fill-opacity="0.5"/>
<rect x="343.6" y="236.2" width="5" height="7.8" fill="rgb(93,201,249)" stroke="#2233ee" stroke-width="0.9" fill-opacity="0.5"/>
<rect x="348.6" y="227.8" width="5" height="16.2" fill="rgb(93,201,249)" stroke="#2233ee" stroke-width="0.9" fill-opacity="0.5"/>
<rect x="353.6" y="227.4" width="5" height="16.6" fill="rgb(93,201,249)" stroke="#2233ee" stroke-width="0.9" fill-opacity="0.5"/>
<rect x="358.6" y="208.6" width="5" height="35.4" fill="rgb(93,201,249)" stroke="#2233ee" stroke-width="0.9" fill-opacity="0.5"/>
<rect x="363.6" y="203.5" width="5" height="40.5" fill="rgb(93,201,249)" stroke="#2233ee" stroke-width="0.9" fill-opacity="0.5"/>
<rect x="368.6" y="202.7" width="5" height="41.3" fill="rgb(93,201,249)" stroke="#2233ee" stroke-width="0.9" fill-opacity="0.5"/>
<rect x="373.6" y="199.5" width="5" height="44.5" fill="rgb(93,201,249)" stroke="#2233ee" stroke-width="0.9" fill-opacity="0.5"/>
<rect x="378.6" y="191.5" width="5" height="52.5" fill="rgb(93,201,249)" stroke="#2233ee" stroke-width="0.9" fill-opacity="0.5"/>
<rect x="383.6" y="212.5" width="5" height="31.5" fill="rgb(93,201,249)" stroke="#2233ee" stroke-width="0.9" fill-opacity="0.5"/>
<rect x="388.6" y="225.2" width="5" height="18.8" fill="rgb(93,201,249)" stroke="#2233ee" stroke-width="0.9" fill-opacity="0.5"/>
<rect x="393.6" y="228.5" width="5" height="15.5" fill="rgb(93,201,249)" stroke="#2233ee" stroke-width="0.9" fill-opacity="0.5"/>
<rect x="398.6" y="236.2" width="5" height="7.8" fill="rgb(93,201,249)" stroke="#2233ee" stroke-width="0.9" fill-opacity="0.5"/>
<rect x="403.6" y="239.9" width="5" height="4.1" fill="rgb(93,201,249)" stroke="#2233ee" stroke-width="0.9" fill-opacity="0.5"/>
<rect x="408.6" y="241" width="5" height="3" fill="rgb(93,201,249)" stroke="#2233ee" stroke-width="0.9" fill-opacity="0.5"/>
<rect x="413.6" y="239.4" width="5" height="4.6" fill="rgb(93,201,249)" stroke="#2233ee" stroke-width="0.9" fill-opacity="0.5"/>
<rect x="418.6" y="241.4" width="5" height="2.6" fill="rgb(93,201,249)" stroke="#2233ee" stroke-width="0.9" fill-opacity="0.5"/>
<rect x="423.6" y="242.5" width="5" height="1.5" fill="rgb(93,201,249)" stroke="#2233ee" stroke-width="0.9" fill-opacity="0.5"/>
<rect x="428.6" y="242.5" width="5" height="1.5" fill="rgb(93,201,249)" stroke="#2233ee" stroke-width="0.9" fill-opacity="0.5"/>
<rect x="433.6" y="243.2" width="5" height="0.8" fill="rgb(93,201,249)" stroke="#2233ee" stroke-width="0.9" fill-opacity="0.5"/>
<rect x="438.6" y="242" width="5" height="2" fill="rgb(93,201,249)" stroke="#2233ee" stroke-width="0.9" fill-opacity="0.5"/>
<line x1="303" y1="16.8" x2="444" y2="16.8" stroke="#9a9a9a" stroke-width="1.3" />
<line x1="443.5" y1="16.8" x2="443.5" y2="110" stroke="#444" stroke-width="1" />
<line x1="303.5" y1="16.3" x2="303.5" y2="110.5" stroke="#333" stroke-width="1" />
<line x1="303" y1="110.5" x2="444" y2="110.5" stroke="#444" stroke-width="1" />
<line x1="300" y1="110.5" x2="303.5" y2="110.5" stroke="#333" stroke-width="0.9" />
<line x1="301.5" y1="92.5" x2="303.5" y2="92.5" stroke="#333" stroke-width="0.9" />
<line x1="300" y1="74.5" x2="303.5" y2="74.5" stroke="#333" stroke-width="0.9" />
<line x1="301.5" y1="56.5" x2="303.5" y2="56.5" stroke="#333" stroke-width="0.9" />
<line x1="300" y1="38.5" x2="303.5" y2="38.5" stroke="#333" stroke-width="0.9" />
<line x1="301.5" y1="20.5" x2="303.5" y2="20.5" stroke="#333" stroke-width="0.9" />
<text x="296.7" y="113.4" font-size="9.8" text-anchor="end" font-weight="normal" font-style="normal" fill="#111" >0</text>
<text x="296.7" y="77.6" font-size="9.8" text-anchor="end" font-weight="normal" font-style="normal" fill="#111" >1</text>
<text x="296.7" y="41.8" font-size="9.8" text-anchor="end" font-weight="normal" font-style="normal" fill="#111" >2</text>
<line x1="303.5" y1="110" x2="303.5" y2="113.5" stroke="#333" stroke-width="0.9" />
<line x1="328.5" y1="110" x2="328.5" y2="112" stroke="#333" stroke-width="0.9" />
<line x1="353.5" y1="110" x2="353.5" y2="113.5" stroke="#333" stroke-width="0.9" />
<line x1="378.5" y1="110" x2="378.5" y2="112" stroke="#333" stroke-width="0.9" />
<line x1="403.5" y1="110" x2="403.5" y2="113.5" stroke="#333" stroke-width="0.9" />
<line x1="428.5" y1="110" x2="428.5" y2="112" stroke="#333" stroke-width="0.9" />
<line x1="303.1" y1="150.9" x2="444" y2="150.9" stroke="#9a9a9a" stroke-width="1.3" />
<line x1="443.5" y1="150.9" x2="443.5" y2="244" stroke="#444" stroke-width="1" />
<line x1="303.5" y1="150.4" x2="303.5" y2="244.5" stroke="#333" stroke-width="1" />
<line x1="303.1" y1="244.5" x2="444" y2="244.5" stroke="#444" stroke-width="1" />
<line x1="300.1" y1="244.5" x2="303.6" y2="244.5" stroke="#333" stroke-width="0.9" />
<line x1="301.6" y1="226.5" x2="303.6" y2="226.5" stroke="#333" stroke-width="0.9" />
<line x1="300.1" y1="208.5" x2="303.6" y2="208.5" stroke="#333" stroke-width="0.9" />
<line x1="301.6" y1="190.5" x2="303.6" y2="190.5" stroke="#333" stroke-width="0.9" />
<line x1="300.1" y1="172.5" x2="303.6" y2="172.5" stroke="#333" stroke-width="0.9" />
<line x1="301.6" y1="155.5" x2="303.6" y2="155.5" stroke="#333" stroke-width="0.9" />
<text x="296.8" y="247.4" font-size="9.8" text-anchor="end" font-weight="normal" font-style="normal" fill="#111" >0</text>
<text x="296.8" y="211.8" font-size="9.8" text-anchor="end" font-weight="normal" font-style="normal" fill="#111" >1</text>
<text x="296.8" y="176.2" font-size="9.8" text-anchor="end" font-weight="normal" font-style="normal" fill="#111" >2</text>
<line x1="303.5" y1="244" x2="303.5" y2="247.5" stroke="#333" stroke-width="0.9" />
<line x1="328.5" y1="244" x2="328.5" y2="246" stroke="#333" stroke-width="0.9" />
<line x1="353.5" y1="244" x2="353.5" y2="247.5" stroke="#333" stroke-width="0.9" />
<line x1="378.5" y1="244" x2="378.5" y2="246" stroke="#333" stroke-width="0.9" />
<line x1="403.5" y1="244" x2="403.5" y2="247.5" stroke="#333" stroke-width="0.9" />
<line x1="428.5" y1="244" x2="428.5" y2="246" stroke="#333" stroke-width="0.9" />
<text x="303.5" y="256.6" font-size="9.6" text-anchor="middle" font-weight="normal" font-style="normal" fill="#111" >0</text>
<text x="353.5" y="256.6" font-size="9.6" text-anchor="middle" font-weight="normal" font-style="normal" fill="#111" >1</text>
<text x="403.5" y="256.6" font-size="9.6" text-anchor="middle" font-weight="normal" font-style="normal" fill="#111" >2</text>
<text x="328.2" y="10.2" font-size="10.45" fill="#333"><tspan font-weight="bold" font-style="italic">exponential</tspan> phase</text>
<text x="332" y="144" font-size="10.3" fill="#333"><tspan font-weight="bold" font-style="italic">stationary</tspan> phase</text>
<rect x="341.6" y="25.5" width="2.5" height="8.2" fill="#ff4fa8" stroke="none" stroke-width="1" />
<rect x="365.5" y="25.5" width="2.5" height="8.2" fill="#4fc3f0" stroke="none" stroke-width="1" />
<rect x="372" y="163.2" width="2.6" height="7.8" fill="#78cff2" stroke="none" stroke-width="1" />
<rect x="374.6" y="163.2" width="2.6" height="7.8" fill="#ff6cb4" stroke="none" stroke-width="1" />
<rect x="404.6" y="38.5" width="14" height="4.5" fill="#f9a8c8" stroke="#ff3a98" stroke-width="1" />
<rect x="404.6" y="49.3" width="14" height="4.5" fill="#4fb3fc" stroke="#2233ee" stroke-width="1" />
<text x="422.3" y="42.9" font-size="9.6" text-anchor="start" font-weight="normal" font-style="normal" fill="#111" >Tar</text>
<text x="422.3" y="53.6" font-size="9.6" text-anchor="start" font-weight="normal" font-style="normal" fill="#111" >Tsr</text>
<text transform="translate(286.2,135.6) rotate(-90)" x="0" y="0" font-size="11.75" text-anchor="middle" fill="#111">relative frequency (x10)</text>
<text x="364.9" y="275.2" font-size="11.6" text-anchor="middle" font-weight="normal" font-style="normal" fill="#111" >receptors / CheA (a.u.)</text>
<line x1="487.8" y1="16.5" x2="566.8" y2="16.5" stroke="#333" stroke-width="1.1" />
<line x1="566.5" y1="16.2" x2="566.5" y2="93.5" stroke="#8a8a8a" stroke-width="1.1" />
<line x1="488.5" y1="15.7" x2="488.5" y2="94" stroke="#333" stroke-width="1" />
<line x1="487.8" y1="93.5" x2="566.8" y2="93.5" stroke="#333" stroke-width="1" />
<line x1="484.8" y1="93.5" x2="488.3" y2="93.5" stroke="#444" stroke-width="0.9" />
<text x="482.3" y="97.2" font-size="10.2" text-anchor="end" font-weight="normal" font-style="normal" fill="#111" >0</text>
<line x1="486.3" y1="85.5" x2="488.3" y2="85.5" stroke="#444" stroke-width="0.9" />
<line x1="486.3" y1="78.5" x2="488.3" y2="78.5" stroke="#444" stroke-width="0.9" />
<line x1="484.8" y1="70.5" x2="488.3" y2="70.5" stroke="#444" stroke-width="0.9" />
<text x="482.3" y="73.86" font-size="10.2" text-anchor="end" font-weight="normal" font-style="normal" fill="#111" >3</text>
<line x1="486.3" y1="62.5" x2="488.3" y2="62.5" stroke="#444" stroke-width="0.9" />
<line x1="486.3" y1="54.5" x2="488.3" y2="54.5" stroke="#444" stroke-width="0.9" />
<line x1="484.8" y1="46.5" x2="488.3" y2="46.5" stroke="#444" stroke-width="0.9" />
<text x="482.3" y="50.52" font-size="10.2" text-anchor="end" font-weight="normal" font-style="normal" fill="#111" >6</text>
<line x1="486.3" y1="39.5" x2="488.3" y2="39.5" stroke="#444" stroke-width="0.9" />
<line x1="486.3" y1="31.5" x2="488.3" y2="31.5" stroke="#444" stroke-width="0.9" />
<line x1="484.8" y1="23.5" x2="488.3" y2="23.5" stroke="#444" stroke-width="0.9" />
<text x="482.3" y="27.18" font-size="10.2" text-anchor="end" font-weight="normal" font-style="normal" fill="#111" >9</text>
<line x1="488.5" y1="93.5" x2="488.5" y2="97.3" stroke="#444" stroke-width="0.9" />
<text x="488.3" y="106.1" font-size="10" text-anchor="middle" font-weight="normal" font-style="normal" fill="#111" >0</text>
<line x1="512.5" y1="93.5" x2="512.5" y2="97.3" stroke="#444" stroke-width="0.9" />
<text x="512.55" y="106.1" font-size="10" text-anchor="middle" font-weight="normal" font-style="normal" fill="#111" >100</text>
<line x1="536.5" y1="93.5" x2="536.5" y2="97.3" stroke="#444" stroke-width="0.9" />
<text x="536.8" y="106.1" font-size="10" text-anchor="middle" font-weight="normal" font-style="normal" fill="#111" >200</text>
<line x1="561.5" y1="93.5" x2="561.5" y2="97.3" stroke="#444" stroke-width="0.9" />
<text x="561.05" y="106.1" font-size="10" text-anchor="middle" font-weight="normal" font-style="normal" fill="#111" >300</text>
<path d="M489.51,72.2 C512.55,72.59 529.52,70.26 544.08,53.14 S553.77,19.69 555.72,18.91" fill="none" stroke="#ababab" stroke-width="2.1"/>
<path d="M489.51,89.32 C517.4,88.93 536.8,81.93 546.5,65.59 S559.11,27.47 561.53,23.97" fill="none" stroke="#c2c388" stroke-width="2.1"/>
<circle cx="495.2" cy="63.6" r="2.05" fill="none" stroke="#ee1c24" stroke-width="1.5"/>
<circle cx="495.2" cy="65.2" r="2.05" fill="none" stroke="#ee1c24" stroke-width="1.5"/>
<circle cx="517.3" cy="73.6" r="2.05" fill="none" stroke="#ee1c24" stroke-width="1.5"/>
<circle cx="553.6" cy="24.3" r="2.05" fill="none" stroke="#ee1c24" stroke-width="1.5"/>
<circle cx="546.1" cy="30.6" r="2.05" fill="none" stroke="#ee1c24" stroke-width="1.5"/>
<circle cx="546.1" cy="32.2" r="2.05" fill="none" stroke="#ee1c24" stroke-width="1.5"/>
<circle cx="495.2" cy="69.2" r="2.05" fill="none" stroke="#1c1cee" stroke-width="1.5"/>
<circle cx="495.2" cy="74.7" r="2.05" fill="none" stroke="#1c1cee" stroke-width="1.5"/>
<circle cx="517.3" cy="70.1" r="2.05" fill="none" stroke="#1c1cee" stroke-width="1.5"/>
<circle cx="546.1" cy="41.6" r="2.05" fill="none" stroke="#1c1cee" stroke-width="1.5"/>
<circle cx="546.1" cy="44.7" r="2.05" fill="none" stroke="#1c1cee" stroke-width="1.5"/>
<circle cx="553" cy="38" r="2.05" fill="none" stroke="#1c1cee" stroke-width="1.5"/>
<circle cx="495.2" cy="88.7" r="2.05" fill="none" stroke="#7a8a10" stroke-width="1.5"/>
<circle cx="531.8" cy="80" r="2.05" fill="none" stroke="#7a8a10" stroke-width="1.5"/>
<circle cx="538.7" cy="77.8" r="2.05" fill="none" stroke="#7a8a10" stroke-width="1.5"/>
<circle cx="556.8" cy="37.1" r="2.05" fill="none" stroke="#7a8a10" stroke-width="1.5"/>
<circle cx="553.2" cy="44" r="2.05" fill="none" stroke="#7a8a10" stroke-width="1.5"/>
<circle cx="495.2" cy="90.1" r="2.05" fill="none" stroke="#f7941d" stroke-width="1.5"/>
<circle cx="531.8" cy="75" r="2.05" fill="none" stroke="#f7941d" stroke-width="1.5"/>
<circle cx="553.6" cy="50.6" r="2.05" fill="none" stroke="#f7941d" stroke-width="1.5"/>
<circle cx="556.8" cy="39.8" r="2.05" fill="none" stroke="#f7941d" stroke-width="1.5"/>
<circle cx="557.7" cy="41.1" r="2.05" fill="none" stroke="#f7941d" stroke-width="1.5"/>
<text transform="translate(468.3,57.5) rotate(-90)" x="0" y="0" font-size="11.6" text-anchor="middle" fill="#111">array size (a.u.)</text>
<text x="528.2" y="117.9" font-size="11.6" text-anchor="middle" font-weight="normal" font-style="normal" fill="#111" >time (min)</text>
<line x1="605" y1="90.5" x2="682.4" y2="90.5" stroke="#c4c4c4" stroke-width="0.9" stroke-dasharray="2,2"/>
<line x1="605" y1="78.5" x2="682.4" y2="78.5" stroke="#c4c4c4" stroke-width="0.9" stroke-dasharray="2,2"/>
<line x1="605" y1="65.5" x2="682.4" y2="65.5" stroke="#c4c4c4" stroke-width="0.9" stroke-dasharray="2,2"/>
<line x1="605" y1="53.5" x2="682.4" y2="53.5" stroke="#c4c4c4" stroke-width="0.9" stroke-dasharray="2,2"/>
<line x1="605" y1="41.5" x2="682.4" y2="41.5" stroke="#c4c4c4" stroke-width="0.9" stroke-dasharray="2,2"/>
<line x1="605" y1="28.5" x2="682.4" y2="28.5" stroke="#c4c4c4" stroke-width="0.9" stroke-dasharray="2,2"/>
<line x1="604.5" y1="16.5" x2="682.9" y2="16.5" stroke="#383838" stroke-width="1.1" />
<line x1="682.5" y1="16.4" x2="682.5" y2="94.2" stroke="#555" stroke-width="1.1" />
<line x1="605.5" y1="15.9" x2="605.5" y2="94.7" stroke="#8c8c8c" stroke-width="1" />
<line x1="604.5" y1="94.5" x2="682.9" y2="94.5" stroke="#333" stroke-width="1" />
<line x1="601.2" y1="90.5" x2="605" y2="90.5" stroke="#444" stroke-width="0.9" />
<text x="599.4" y="94.1" font-size="9.9" text-anchor="end" font-weight="normal" font-style="normal" fill="#111" >0.4</text>
<line x1="603" y1="84.5" x2="605" y2="84.5" stroke="#444" stroke-width="0.9" />
<line x1="603" y1="78.5" x2="605" y2="78.5" stroke="#444" stroke-width="0.9" />
<line x1="603" y1="72.5" x2="605" y2="72.5" stroke="#444" stroke-width="0.9" />
<line x1="601.2" y1="65.5" x2="605" y2="65.5" stroke="#444" stroke-width="0.9" />
<text x="599.4" y="69.3" font-size="9.9" text-anchor="end" font-weight="normal" font-style="normal" fill="#111" >1.2</text>
<line x1="603" y1="59.5" x2="605" y2="59.5" stroke="#444" stroke-width="0.9" />
<line x1="603" y1="53.5" x2="605" y2="53.5" stroke="#444" stroke-width="0.9" />
<line x1="603" y1="47.5" x2="605" y2="47.5" stroke="#444" stroke-width="0.9" />
<line x1="601.2" y1="41.5" x2="605" y2="41.5" stroke="#444" stroke-width="0.9" />
<text x="599.4" y="44.5" font-size="9.9" text-anchor="end" font-weight="normal" font-style="normal" fill="#111" >2.0</text>
<line x1="603" y1="34.5" x2="605" y2="34.5" stroke="#444" stroke-width="0.9" />
<line x1="603" y1="28.5" x2="605" y2="28.5" stroke="#444" stroke-width="0.9" />
<line x1="603" y1="22.5" x2="605" y2="22.5" stroke="#444" stroke-width="0.9" />
<line x1="601.2" y1="16.5" x2="605" y2="16.5" stroke="#444" stroke-width="0.9" />
<text x="599.4" y="19.7" font-size="9.9" text-anchor="end" font-weight="normal" font-style="normal" fill="#111" >2.8</text>
<line x1="605.5" y1="94.2" x2="605.5" y2="98" stroke="#444" stroke-width="0.9" />
<text x="605" y="106.4" font-size="10" text-anchor="middle" font-weight="normal" font-style="normal" fill="#111" >0</text>
<line x1="629.5" y1="94.2" x2="629.5" y2="98" stroke="#444" stroke-width="0.9" />
<text x="629.4" y="106.4" font-size="10" text-anchor="middle" font-weight="normal" font-style="normal" fill="#111" >100</text>
<line x1="653.5" y1="94.2" x2="653.5" y2="98" stroke="#444" stroke-width="0.9" />
<text x="653.8" y="106.4" font-size="10" text-anchor="middle" font-weight="normal" font-style="normal" fill="#111" >200</text>
<line x1="678.5" y1="94.2" x2="678.5" y2="98" stroke="#444" stroke-width="0.9" />
<text x="677.2" y="106.4" font-size="10" text-anchor="middle" font-weight="normal" font-style="normal" fill="#111" >300</text>
<line x1="605.0" y1="53.6" x2="678.1" y2="87.2" stroke="#a6a6a6" stroke-width="2.3"/>
<path d="M611.2,48.2 C630,52 650,56 662,62 S672,70 674,73" fill="none" stroke="#fcbf8a" stroke-width="2.4"/>
<line x1="609.6" y1="16.9" x2="676.5" y2="80.8" stroke="#b9ba7c" stroke-width="2.2"/>
<circle cx="612.2" cy="60.3" r="2.05" fill="none" stroke="#ee1c24" stroke-width="1.5"/>
<circle cx="633.9" cy="62.7" r="2.05" fill="none" stroke="#ee1c24" stroke-width="1.5"/>
<circle cx="663" cy="83.5" r="2.05" fill="none" stroke="#ee1c24" stroke-width="1.5"/>
<circle cx="663" cy="85.6" r="2.05" fill="none" stroke="#ee1c24" stroke-width="1.5"/>
<circle cx="670.1" cy="84.6" r="2.05" fill="none" stroke="#ee1c24" stroke-width="1.5"/>
<circle cx="612.2" cy="52.6" r="2.05" fill="none" stroke="#1c1cee" stroke-width="1.5"/>
<circle cx="612.2" cy="55.6" r="2.05" fill="none" stroke="#1c1cee" stroke-width="1.5"/>
<circle cx="612.2" cy="58.3" r="2.05" fill="none" stroke="#1c1cee" stroke-width="1.5"/>
<circle cx="633.9" cy="67" r="2.05" fill="none" stroke="#1c1cee" stroke-width="1.5"/>
<circle cx="663" cy="74.6" r="2.05" fill="none" stroke="#1c1cee" stroke-width="1.5"/>
<circle cx="663" cy="76.8" r="2.05" fill="none" stroke="#1c1cee" stroke-width="1.5"/>
<circle cx="663" cy="79" r="2.05" fill="none" stroke="#1c1cee" stroke-width="1.5"/>
<circle cx="670.1" cy="81.4" r="2.05" fill="none" stroke="#1c1cee" stroke-width="1.5"/>
<circle cx="612" cy="22" r="2.05" fill="none" stroke="#7a8a10" stroke-width="1.5"/>
<circle cx="648.6" cy="52.6" r="2.05" fill="none" stroke="#7a8a10" stroke-width="1.5"/>
<circle cx="655.6" cy="50" r="2.05" fill="none" stroke="#7a8a10" stroke-width="1.5"/>
<circle cx="670.1" cy="74.1" r="2.05" fill="none" stroke="#7a8a10" stroke-width="1.5"/>
<circle cx="673.8" cy="79.3" r="2.05" fill="none" stroke="#7a8a10" stroke-width="1.5"/>
<circle cx="612.2" cy="48.5" r="2.05" fill="none" stroke="#fbb880" stroke-width="1.5"/>
<circle cx="648.5" cy="57.3" r="2.05" fill="none" stroke="#fbb880" stroke-width="1.5"/>
<circle cx="670.1" cy="70.2" r="2.05" fill="none" stroke="#fbb880" stroke-width="1.5"/>
<circle cx="673.1" cy="70.2" r="2.05" fill="none" stroke="#fbb880" stroke-width="1.5"/>
<circle cx="672.3" cy="74.5" r="2.05" fill="none" stroke="#fbb880" stroke-width="1.5"/>
<text transform="translate(583.2,57.8) rotate(-90)" x="0" y="0" font-size="10.4" text-anchor="middle" fill="#111">Tar / CheA</text>
<text x="645.3" y="118" font-size="11.7" text-anchor="middle" font-weight="normal" font-style="normal" fill="#111" >time (min)</text>
<line x1="490.5" y1="239.5" x2="621.5" y2="239.5" stroke="#c4c4c4" stroke-width="0.9" stroke-dasharray="2,2"/>
<line x1="490.5" y1="224.5" x2="621.5" y2="224.5" stroke="#c4c4c4" stroke-width="0.9" stroke-dasharray="2,2"/>
<line x1="490.5" y1="208.5" x2="621.5" y2="208.5" stroke="#c4c4c4" stroke-width="0.9" stroke-dasharray="2,2"/>
<line x1="490.5" y1="193.5" x2="621.5" y2="193.5" stroke="#c4c4c4" stroke-width="0.9" stroke-dasharray="2,2"/>
<line x1="490.5" y1="177.5" x2="621.5" y2="177.5" stroke="#c4c4c4" stroke-width="0.9" stroke-dasharray="2,2"/>
<line x1="490.5" y1="162.5" x2="621.5" y2="162.5" stroke="#c4c4c4" stroke-width="0.9" stroke-dasharray="2,2"/>
<polyline points="513.11,153.75 562.16,192.77 571.97,188.91 596.5,227.15" fill="none" stroke="#6464f0" stroke-width="0.9" opacity="0.95"/>
<polyline points="513.11,170.75 571.97,205.9 591.59,220.97" fill="none" stroke="#f06cb4" stroke-width="0.9" opacity="0.95"/>
<polyline points="513.11,172.68 542.54,197.02 581.78,216.33" fill="none" stroke="#e8a0d8" stroke-width="0.9" opacity="0.95"/>
<polyline points="513.11,178.86 571.97,219.42 596.5,230.24" fill="none" stroke="#b48ae6" stroke-width="0.9" opacity="0.95"/>
<polyline points="513.11,182.73 562.16,194.31 591.59,210.93 596.5,214.4" fill="none" stroke="#6cc08c" stroke-width="0.9" opacity="0.95"/>
<polyline points="513.11,184.66 571.97,208.61 591.59,220.97" fill="none" stroke="#f0a050" stroke-width="0.9" opacity="0.95"/>
<polyline points="513.11,187.75 562.16,198.56 591.59,215.56" fill="none" stroke="#9a9a9a" stroke-width="0.9" opacity="0.95"/>
<polyline points="508.2,189.68 522.92,175.77 542.54,193.16 581.78,221.74" fill="none" stroke="#70a0e8" stroke-width="0.9" opacity="0.95"/>
<polyline points="508.2,198.18 542.54,205.13 581.78,232.94" fill="none" stroke="#888888" stroke-width="0.9" opacity="0.95"/>
<polyline points="513.11,193.16 562.16,210.54 596.5,217.88" fill="none" stroke="#4cc8c8" stroke-width="0.9" opacity="0.95"/>
<polyline points="513.11,195.09 562.16,215.56 596.5,235.26" fill="none" stroke="#40c4c0" stroke-width="0.9" opacity="0.95"/>
<polyline points="513.11,197.02 581.78,221.74 596.5,220.97" fill="none" stroke="#66c0a0" stroke-width="0.9" opacity="0.95"/>
<polyline points="513.11,208.61 542.54,209.77 581.78,228.31" fill="none" stroke="#a8a050" stroke-width="0.9" opacity="0.95"/>
<polyline points="513.11,213.24 542.54,219.04 581.78,230.24 591.59,231.4" fill="none" stroke="#b0a060" stroke-width="0.9" opacity="0.95"/>
<polyline points="513.11,210.93 562.16,207.06 591.59,234.1" fill="none" stroke="#c8b070" stroke-width="0.9" opacity="0.95"/>
<polyline points="513.11,200.11 562.16,212.47 596.5,227.15" fill="none" stroke="#5cc8b0" stroke-width="0.9" opacity="0.95"/>
<polyline points="522.92,208.61 562.16,218.27 601.4,217.88" fill="none" stroke="#70b8e0" stroke-width="0.9" opacity="0.95"/>
<polyline points="513.11,202.81 581.78,221.74 601.4,221.74" fill="none" stroke="#80c8f0" stroke-width="0.9" opacity="0.95"/>
<polyline points="513.11,204.75 542.54,214.4 591.59,234.1" fill="none" stroke="#a0a0a0" stroke-width="0.9" opacity="0.95"/>
<polyline points="513.11,206.68 562.16,220.2 581.78,229.85" fill="none" stroke="#e0c060" stroke-width="0.9" opacity="0.95"/>
<polyline points="513.11,200.88 581.78,216.33 596.5,217.88" fill="none" stroke="#60c0c0" stroke-width="0.9" opacity="0.95"/>
<polyline points="513.11,198.95 571.97,219.42 596.5,235.26" fill="none" stroke="#50b8d8" stroke-width="0.9" opacity="0.95"/>
<polyline points="513.11,196.25 581.78,214.4 591.59,217.88" fill="none" stroke="#7a7ad8" stroke-width="0.9" opacity="0.95"/>
<polyline points="513.11,192.38 591.59,212.47 596.5,216.33" fill="none" stroke="#58b890" stroke-width="0.9" opacity="0.95"/>
<circle cx="513.11" cy="153.75" r="2.05" fill="none" stroke="#6464f0" stroke-width="1.3"/>
<circle cx="562.16" cy="192.77" r="2.05" fill="none" stroke="#6464f0" stroke-width="1.3"/>
<circle cx="571.97" cy="188.91" r="2.05" fill="none" stroke="#6464f0" stroke-width="1.3"/>
<circle cx="596.5" cy="227.15" r="2.05" fill="none" stroke="#6464f0" stroke-width="1.3"/>
<circle cx="513.11" cy="170.75" r="2.05" fill="none" stroke="#f06cb4" stroke-width="1.3"/>
<circle cx="571.97" cy="205.9" r="2.05" fill="none" stroke="#f06cb4" stroke-width="1.3"/>
<circle cx="591.59" cy="220.97" r="2.05" fill="none" stroke="#f06cb4" stroke-width="1.3"/>
<circle cx="513.11" cy="172.68" r="2.05" fill="none" stroke="#e8a0d8" stroke-width="1.3"/>
<circle cx="542.54" cy="197.02" r="2.05" fill="none" stroke="#e8a0d8" stroke-width="1.3"/>
<circle cx="581.78" cy="216.33" r="2.05" fill="none" stroke="#e8a0d8" stroke-width="1.3"/>
<circle cx="513.11" cy="178.86" r="2.05" fill="none" stroke="#b48ae6" stroke-width="1.3"/>
<circle cx="571.97" cy="219.42" r="2.05" fill="none" stroke="#b48ae6" stroke-width="1.3"/>
<circle cx="596.5" cy="230.24" r="2.05" fill="none" stroke="#b48ae6" stroke-width="1.3"/>
<circle cx="513.11" cy="182.73" r="2.05" fill="none" stroke="#6cc08c" stroke-width="1.3"/>
<circle cx="562.16" cy="194.31" r="2.05" fill="none" stroke="#6cc08c" stroke-width="1.3"/>
<circle cx="591.59" cy="210.93" r="2.05" fill="none" stroke="#6cc08c" stroke-width="1.3"/>
<circle cx="596.5" cy="214.4" r="2.05" fill="none" stroke="#6cc08c" stroke-width="1.3"/>
<circle cx="513.11" cy="184.66" r="2.05" fill="none" stroke="#f0a050" stroke-width="1.3"/>
<circle cx="571.97" cy="208.61" r="2.05" fill="none" stroke="#f0a050" stroke-width="1.3"/>
<circle cx="591.59" cy="220.97" r="2.05" fill="none" stroke="#f0a050" stroke-width="1.3"/>
<circle cx="513.11" cy="187.75" r="2.05" fill="none" stroke="#9a9a9a" stroke-width="1.3"/>
<circle cx="562.16" cy="198.56" r="2.05" fill="none" stroke="#9a9a9a" stroke-width="1.3"/>
<circle cx="591.59" cy="215.56" r="2.05" fill="none" stroke="#9a9a9a" stroke-width="1.3"/>
<circle cx="508.2" cy="189.68" r="2.05" fill="none" stroke="#70a0e8" stroke-width="1.3"/>
<circle cx="522.92" cy="175.77" r="2.05" fill="none" stroke="#70a0e8" stroke-width="1.3"/>
<circle cx="542.54" cy="193.16" r="2.05" fill="none" stroke="#70a0e8" stroke-width="1.3"/>
<circle cx="581.78" cy="221.74" r="2.05" fill="none" stroke="#70a0e8" stroke-width="1.3"/>
<circle cx="508.2" cy="198.18" r="2.05" fill="none" stroke="#888888" stroke-width="1.3"/>
<circle cx="542.54" cy="205.13" r="2.05" fill="none" stroke="#888888" stroke-width="1.3"/>
<circle cx="581.78" cy="232.94" r="2.05" fill="none" stroke="#888888" stroke-width="1.3"/>
<circle cx="513.11" cy="193.16" r="2.05" fill="none" stroke="#4cc8c8" stroke-width="1.3"/>
<circle cx="562.16" cy="210.54" r="2.05" fill="none" stroke="#4cc8c8" stroke-width="1.3"/>
<circle cx="596.5" cy="217.88" r="2.05" fill="none" stroke="#4cc8c8" stroke-width="1.3"/>
<circle cx="513.11" cy="195.09" r="2.05" fill="none" stroke="#40c4c0" stroke-width="1.3"/>
<circle cx="562.16" cy="215.56" r="2.05" fill="none" stroke="#40c4c0" stroke-width="1.3"/>
<circle cx="596.5" cy="235.26" r="2.05" fill="none" stroke="#40c4c0" stroke-width="1.3"/>
<circle cx="513.11" cy="197.02" r="2.05" fill="none" stroke="#66c0a0" stroke-width="1.3"/>
<circle cx="581.78" cy="221.74" r="2.05" fill="none" stroke="#66c0a0" stroke-width="1.3"/>
<circle cx="596.5" cy="220.97" r="2.05" fill="none" stroke="#66c0a0" stroke-width="1.3"/>
<circle cx="513.11" cy="208.61" r="2.05" fill="none" stroke="#a8a050" stroke-width="1.3"/>
<circle cx="542.54" cy="209.77" r="2.05" fill="none" stroke="#a8a050" stroke-width="1.3"/>
<circle cx="581.78" cy="228.31" r="2.05" fill="none" stroke="#a8a050" stroke-width="1.3"/>
<circle cx="513.11" cy="213.24" r="2.05" fill="none" stroke="#b0a060" stroke-width="1.3"/>
<circle cx="542.54" cy="219.04" r="2.05" fill="none" stroke="#b0a060" stroke-width="1.3"/>
<circle cx="581.78" cy="230.24" r="2.05" fill="none" stroke="#b0a060" stroke-width="1.3"/>
<circle cx="591.59" cy="231.4" r="2.05" fill="none" stroke="#b0a060" stroke-width="1.3"/>
<circle cx="513.11" cy="210.93" r="2.05" fill="none" stroke="#c8b070" stroke-width="1.3"/>
<circle cx="562.16" cy="207.06" r="2.05" fill="none" stroke="#c8b070" stroke-width="1.3"/>
<circle cx="591.59" cy="234.1" r="2.05" fill="none" stroke="#c8b070" stroke-width="1.3"/>
<circle cx="513.11" cy="200.11" r="2.05" fill="none" stroke="#5cc8b0" stroke-width="1.3"/>
<circle cx="562.16" cy="212.47" r="2.05" fill="none" stroke="#5cc8b0" stroke-width="1.3"/>
<circle cx="596.5" cy="227.15" r="2.05" fill="none" stroke="#5cc8b0" stroke-width="1.3"/>
<circle cx="522.92" cy="208.61" r="2.05" fill="none" stroke="#70b8e0" stroke-width="1.3"/>
<circle cx="562.16" cy="218.27" r="2.05" fill="none" stroke="#70b8e0" stroke-width="1.3"/>
<circle cx="601.4" cy="217.88" r="2.05" fill="none" stroke="#70b8e0" stroke-width="1.3"/>
<circle cx="513.11" cy="202.81" r="2.05" fill="none" stroke="#80c8f0" stroke-width="1.3"/>
<circle cx="581.78" cy="221.74" r="2.05" fill="none" stroke="#80c8f0" stroke-width="1.3"/>
<circle cx="601.4" cy="221.74" r="2.05" fill="none" stroke="#80c8f0" stroke-width="1.3"/>
<circle cx="513.11" cy="204.75" r="2.05" fill="none" stroke="#a0a0a0" stroke-width="1.3"/>
<circle cx="542.54" cy="214.4" r="2.05" fill="none" stroke="#a0a0a0" stroke-width="1.3"/>
<circle cx="591.59" cy="234.1" r="2.05" fill="none" stroke="#a0a0a0" stroke-width="1.3"/>
<circle cx="513.11" cy="206.68" r="2.05" fill="none" stroke="#e0c060" stroke-width="1.3"/>
<circle cx="562.16" cy="220.2" r="2.05" fill="none" stroke="#e0c060" stroke-width="1.3"/>
<circle cx="581.78" cy="229.85" r="2.05" fill="none" stroke="#e0c060" stroke-width="1.3"/>
<circle cx="513.11" cy="200.88" r="2.05" fill="none" stroke="#60c0c0" stroke-width="1.3"/>
<circle cx="581.78" cy="216.33" r="2.05" fill="none" stroke="#60c0c0" stroke-width="1.3"/>
<circle cx="596.5" cy="217.88" r="2.05" fill="none" stroke="#60c0c0" stroke-width="1.3"/>
<circle cx="513.11" cy="198.95" r="2.05" fill="none" stroke="#50b8d8" stroke-width="1.3"/>
<circle cx="571.97" cy="219.42" r="2.05" fill="none" stroke="#50b8d8" stroke-width="1.3"/>
<circle cx="596.5" cy="235.26" r="2.05" fill="none" stroke="#50b8d8" stroke-width="1.3"/>
<circle cx="513.11" cy="196.25" r="2.05" fill="none" stroke="#7a7ad8" stroke-width="1.3"/>
<circle cx="581.78" cy="214.4" r="2.05" fill="none" stroke="#7a7ad8" stroke-width="1.3"/>
<circle cx="591.59" cy="217.88" r="2.05" fill="none" stroke="#7a7ad8" stroke-width="1.3"/>
<circle cx="513.11" cy="192.38" r="2.05" fill="none" stroke="#58b890" stroke-width="1.3"/>
<circle cx="591.59" cy="212.47" r="2.05" fill="none" stroke="#58b890" stroke-width="1.3"/>
<circle cx="596.5" cy="216.33" r="2.05" fill="none" stroke="#58b890" stroke-width="1.3"/>
<line x1="490" y1="146.5" x2="622" y2="146.5" stroke="#383838" stroke-width="1.1" />
<line x1="621.5" y1="146.5" x2="621.5" y2="247.2" stroke="#555" stroke-width="1.1" />
<line x1="490.5" y1="146" x2="490.5" y2="247.7" stroke="#333" stroke-width="1" />
<line x1="490" y1="247.5" x2="622" y2="247.5" stroke="#333" stroke-width="1" />
<line x1="486.7" y1="239.5" x2="490.5" y2="239.5" stroke="#444" stroke-width="0.9" />
<text x="485.5" y="242.91" font-size="9.6" text-anchor="end" font-weight="normal" font-style="normal" fill="#111" >0.4</text>
<line x1="488.5" y1="231.5" x2="490.5" y2="231.5" stroke="#444" stroke-width="0.9" />
<line x1="486.7" y1="224.5" x2="490.5" y2="224.5" stroke="#444" stroke-width="0.9" />
<text x="485.5" y="227.46" font-size="9.6" text-anchor="end" font-weight="normal" font-style="normal" fill="#111" >0.8</text>
<line x1="488.5" y1="216.5" x2="490.5" y2="216.5" stroke="#444" stroke-width="0.9" />
<line x1="486.7" y1="208.5" x2="490.5" y2="208.5" stroke="#444" stroke-width="0.9" />
<text x="485.5" y="212.01" font-size="9.6" text-anchor="end" font-weight="normal" font-style="normal" fill="#111" >1.2</text>
<line x1="488.5" y1="200.5" x2="490.5" y2="200.5" stroke="#444" stroke-width="0.9" />
<line x1="486.7" y1="193.5" x2="490.5" y2="193.5" stroke="#444" stroke-width="0.9" />
<text x="485.5" y="196.56" font-size="9.6" text-anchor="end" font-weight="normal" font-style="normal" fill="#111" >1.6</text>
<line x1="488.5" y1="185.5" x2="490.5" y2="185.5" stroke="#444" stroke-width="0.9" />
<line x1="486.7" y1="177.5" x2="490.5" y2="177.5" stroke="#444" stroke-width="0.9" />
<text x="485.5" y="181.1" font-size="9.6" text-anchor="end" font-weight="normal" font-style="normal" fill="#111" >2.0</text>
<line x1="488.5" y1="169.5" x2="490.5" y2="169.5" stroke="#444" stroke-width="0.9" />
<line x1="486.7" y1="162.5" x2="490.5" y2="162.5" stroke="#444" stroke-width="0.9" />
<text x="485.5" y="165.65" font-size="9.6" text-anchor="end" font-weight="normal" font-style="normal" fill="#111" >2.4</text>
<line x1="488.5" y1="154.5" x2="490.5" y2="154.5" stroke="#444" stroke-width="0.9" />
<line x1="486.7" y1="146.5" x2="490.5" y2="146.5" stroke="#444" stroke-width="0.9" />
<text x="485.5" y="150.2" font-size="9.6" text-anchor="end" font-weight="normal" font-style="normal" fill="#111" >2.8</text>
<line x1="503.5" y1="247.2" x2="503.5" y2="251" stroke="#444" stroke-width="0.9" />
<text x="503.3" y="261" font-size="9.5" text-anchor="middle" font-weight="normal" font-style="normal" fill="#111" >0</text>
<line x1="519.5" y1="247.2" x2="519.5" y2="249.2" stroke="#444" stroke-width="0.9" />
<line x1="536.5" y1="247.2" x2="536.5" y2="251" stroke="#444" stroke-width="0.9" />
<text x="536" y="261" font-size="9.5" text-anchor="middle" font-weight="normal" font-style="normal" fill="#111" >100</text>
<line x1="552.5" y1="247.2" x2="552.5" y2="249.2" stroke="#444" stroke-width="0.9" />
<line x1="568.5" y1="247.2" x2="568.5" y2="251" stroke="#444" stroke-width="0.9" />
<text x="568.7" y="261" font-size="9.5" text-anchor="middle" font-weight="normal" font-style="normal" fill="#111" >200</text>
<line x1="585.5" y1="247.2" x2="585.5" y2="249.2" stroke="#444" stroke-width="0.9" />
<line x1="601.5" y1="247.2" x2="601.5" y2="251" stroke="#444" stroke-width="0.9" />
<text x="601.4" y="261" font-size="9.5" text-anchor="middle" font-weight="normal" font-style="normal" fill="#111" >300</text>
<line x1="617.5" y1="247.2" x2="617.5" y2="249.2" stroke="#444" stroke-width="0.9" />
<g stroke="#ee1c24" stroke-width="1.3"><line x1="498.9" y1="153.6" x2="498.9" y2="212.4"/><line x1="495.8" y1="153.6" x2="502" y2="153.6"/><line x1="495.8" y1="212.4" x2="502" y2="212.4"/><line x1="611.4" y1="214.6" x2="611.4" y2="235"/><line x1="608.4" y1="214.6" x2="614.4" y2="214.6"/><line x1="608.4" y1="235" x2="614.4" y2="235"/></g>
<text transform="translate(468.8,191.8) rotate(-90)" x="0" y="0" font-size="10.8" text-anchor="middle" fill="#111">Tar / CheA</text>
<text x="552.7" y="274.8" font-size="10.2" text-anchor="middle" font-weight="normal" font-style="normal" fill="#111" >time (min)</text>
<defs><filter id="bl1" filterUnits="userSpaceOnUse" x="625" y="130" width="60" height="120"><feGaussianBlur stdDeviation="1.0"/></filter><filter id="bl2" filterUnits="userSpaceOnUse" x="625" y="130" width="60" height="120"><feGaussianBlur stdDeviation="0.4"/></filter><clipPath id="mc"><rect x="629.2" y="134.6" width="54.8" height="112.2"/></clipPath></defs>
<rect x="629.2" y="134.6" width="54.8" height="26.8" fill="#2c2c2c" stroke="#1e1e1e" stroke-width="0.8" />
<line x1="644.5" y1="150.2" x2="653.5" y2="146.3" stroke="#0c0c0c" stroke-width="4.0" stroke-linecap="round" filter="url(#bl1)"/>
<ellipse cx="643.8" cy="150.6" rx="2.0" ry="2.0" fill="#f4f40a" filter="url(#bl2)"/>
<ellipse cx="652.1" cy="146.8" rx="0.8" ry="0.8" fill="#9a9a10" filter="url(#bl2)"/>
<line x1="662.8" y1="140.9" x2="660.42" y2="142.28" stroke="#93c11f" stroke-width="1.2"/>
<path d="M656.1,144.8 L659.01,139.86 L661.83,144.7 Z" fill="#93c11f"/>
<rect x="629.2" y="163" width="54.8" height="26.8" fill="#2c2c2c" stroke="#1e1e1e" stroke-width="0.8" />
<line x1="638" y1="178.4" x2="653.5" y2="173.7" stroke="#0c0c0c" stroke-width="4.2" stroke-linecap="round" filter="url(#bl1)"/>
<line x1="653.5" y1="173.7" x2="666.6" y2="174" stroke="#0c0c0c" stroke-width="4.0" stroke-linecap="round" filter="url(#bl1)"/>
<ellipse cx="636.9" cy="179" rx="1.4" ry="2.7" fill="#f4f40a" filter="url(#bl2)"/>
<ellipse cx="667.5" cy="174" rx="1.5" ry="1.5" fill="#f4f40a" filter="url(#bl2)"/>
<line x1="679" y1="168.3" x2="675.95" y2="170.03" stroke="#93c11f" stroke-width="1.2"/>
<path d="M671.6,172.5 L674.57,167.6 L677.33,172.47 Z" fill="#93c11f"/>
<rect x="629.2" y="192.3" width="54.8" height="26.8" fill="#2c2c2c" stroke="#1e1e1e" stroke-width="0.8" />
<line x1="637.5" y1="209.8" x2="654.1" y2="208" stroke="#0c0c0c" stroke-width="4.0" stroke-linecap="round" filter="url(#bl1)"/>
<line x1="648.8" y1="201.5" x2="667.8" y2="205" stroke="#0c0c0c" stroke-width="4.0" stroke-linecap="round" filter="url(#bl1)"/>
<ellipse cx="636.3" cy="210.1" rx="2.3" ry="2.3" fill="#f4f40a" filter="url(#bl2)"/>
<ellipse cx="669.2" cy="205.4" rx="1.7" ry="2.0" fill="#f4f40a" filter="url(#bl2)"/>
<ellipse cx="647.3" cy="203.3" rx="0.8" ry="0.8" fill="#9a9a10" filter="url(#bl2)"/>
<ellipse cx="653.5" cy="207.8" rx="0.5" ry="0.5" fill="#9a9a10" filter="url(#bl2)"/>
<line x1="679.6" y1="199.9" x2="677.39" y2="201.23" stroke="#93c11f" stroke-width="1.2"/>
<path d="M673.1,203.8 L675.95,198.83 L678.83,203.63 Z" fill="#93c11f"/>
<rect x="629.2" y="220" width="54.8" height="26.8" fill="#2c2c2c" stroke="#1e1e1e" stroke-width="0.8" />
<line x1="635.5" y1="239.5" x2="660" y2="226" stroke="#0c0c0c" stroke-width="4.8" stroke-linecap="round" filter="url(#bl1)"/>
<line x1="648" y1="238" x2="664" y2="231" stroke="#0c0c0c" stroke-width="3.8000000000000003" stroke-linecap="round" filter="url(#bl1)"/>
<line x1="650" y1="233" x2="668" y2="231" stroke="#0c0c0c" stroke-width="3.6" stroke-linecap="round" filter="url(#bl1)"/>
<ellipse cx="634.7" cy="239.8" rx="2.3" ry="2.8" fill="#f4f40a" filter="url(#bl2)"/>
<ellipse cx="646.7" cy="231.8" rx="1.5" ry="2.2" fill="#f4f40a" filter="url(#bl2)"/>
<ellipse cx="649.3" cy="237.8" rx="1.3" ry="1.9" fill="#f4f40a" filter="url(#bl2)"/>
<ellipse cx="653.1" cy="239.9" rx="0.8" ry="0.8" fill="#9a9a10" filter="url(#bl2)"/>
<ellipse cx="662.4" cy="231.6" rx="1.9" ry="1.9" fill="#f4f40a" filter="url(#bl2)"/>
<ellipse cx="669" cy="232.2" rx="2.0" ry="2.2" fill="#f4f40a" filter="url(#bl2)"/>
<ellipse cx="668" cy="228.9" rx="1.1" ry="1.1" fill="#9a9a10" filter="url(#bl2)"/>
<line x1="679.9" y1="226.3" x2="677.41" y2="227.76" stroke="#93c11f" stroke-width="1.2"/>
<path d="M673.1,230.3 L675.99,225.35 L678.83,230.18 Z" fill="#93c11f"/>
</svg>
</body></html>
